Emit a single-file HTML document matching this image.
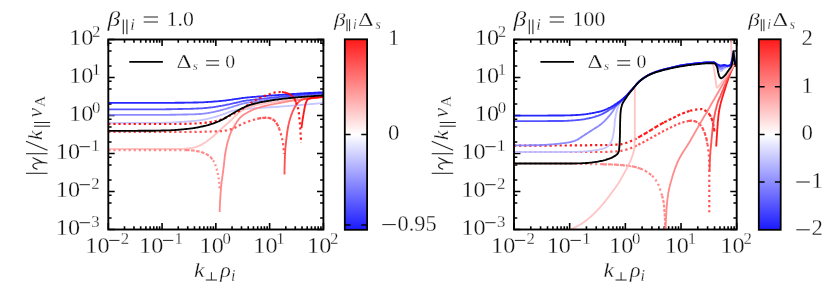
<!DOCTYPE html>
<html><head><meta charset="utf-8"><style>
html,body{margin:0;padding:0;background:#fff}
svg{display:block}
text{font-family:"Liberation Serif",serif;fill:#111;stroke:#fff;stroke-width:0.28px}
</style></head><body>
<svg width="830" height="284" viewBox="0 0 830 284">
<defs>
<linearGradient id="bwr" x1="0" y1="0" x2="0" y2="1"><stop offset="0" stop-color="#ff1a1a"/><stop offset="0.5" stop-color="#ffffff"/><stop offset="1" stop-color="#1a1aff"/></linearGradient>
<clipPath id="cp1"><rect x="108.3" y="39.5" width="215.1" height="190"/></clipPath>
<clipPath id="cp2"><rect x="514" y="39.5" width="222.7" height="190"/></clipPath>
</defs>
<rect width="830" height="284" fill="#fff"/>
<path d="M108.30 229.50 v-6.40 M108.30 39.50 v6.40" stroke="#000" stroke-width="1.6"/>
<path d="M124.49 229.50 v-3.30 M124.49 39.50 v3.30" stroke="#000" stroke-width="1.6"/>
<path d="M133.96 229.50 v-3.30 M133.96 39.50 v3.30" stroke="#000" stroke-width="1.6"/>
<path d="M140.68 229.50 v-3.30 M140.68 39.50 v3.30" stroke="#000" stroke-width="1.6"/>
<path d="M145.89 229.50 v-3.30 M145.89 39.50 v3.30" stroke="#000" stroke-width="1.6"/>
<path d="M150.15 229.50 v-3.30 M150.15 39.50 v3.30" stroke="#000" stroke-width="1.6"/>
<path d="M153.75 229.50 v-3.30 M153.75 39.50 v3.30" stroke="#000" stroke-width="1.6"/>
<path d="M156.86 229.50 v-3.30 M156.86 39.50 v3.30" stroke="#000" stroke-width="1.6"/>
<path d="M159.61 229.50 v-3.30 M159.61 39.50 v3.30" stroke="#000" stroke-width="1.6"/>
<path d="M162.07 229.50 v-6.40 M162.07 39.50 v6.40" stroke="#000" stroke-width="1.6"/>
<path d="M178.26 229.50 v-3.30 M178.26 39.50 v3.30" stroke="#000" stroke-width="1.6"/>
<path d="M187.73 229.50 v-3.30 M187.73 39.50 v3.30" stroke="#000" stroke-width="1.6"/>
<path d="M194.45 229.50 v-3.30 M194.45 39.50 v3.30" stroke="#000" stroke-width="1.6"/>
<path d="M199.66 229.50 v-3.30 M199.66 39.50 v3.30" stroke="#000" stroke-width="1.6"/>
<path d="M203.92 229.50 v-3.30 M203.92 39.50 v3.30" stroke="#000" stroke-width="1.6"/>
<path d="M207.52 229.50 v-3.30 M207.52 39.50 v3.30" stroke="#000" stroke-width="1.6"/>
<path d="M210.64 229.50 v-3.30 M210.64 39.50 v3.30" stroke="#000" stroke-width="1.6"/>
<path d="M213.39 229.50 v-3.30 M213.39 39.50 v3.30" stroke="#000" stroke-width="1.6"/>
<path d="M215.85 229.50 v-6.40 M215.85 39.50 v6.40" stroke="#000" stroke-width="1.6"/>
<path d="M232.04 229.50 v-3.30 M232.04 39.50 v3.30" stroke="#000" stroke-width="1.6"/>
<path d="M241.51 229.50 v-3.30 M241.51 39.50 v3.30" stroke="#000" stroke-width="1.6"/>
<path d="M248.23 229.50 v-3.30 M248.23 39.50 v3.30" stroke="#000" stroke-width="1.6"/>
<path d="M253.44 229.50 v-3.30 M253.44 39.50 v3.30" stroke="#000" stroke-width="1.6"/>
<path d="M257.70 229.50 v-3.30 M257.70 39.50 v3.30" stroke="#000" stroke-width="1.6"/>
<path d="M261.30 229.50 v-3.30 M261.30 39.50 v3.30" stroke="#000" stroke-width="1.6"/>
<path d="M264.41 229.50 v-3.30 M264.41 39.50 v3.30" stroke="#000" stroke-width="1.6"/>
<path d="M267.16 229.50 v-3.30 M267.16 39.50 v3.30" stroke="#000" stroke-width="1.6"/>
<path d="M269.62 229.50 v-6.40 M269.62 39.50 v6.40" stroke="#000" stroke-width="1.6"/>
<path d="M285.81 229.50 v-3.30 M285.81 39.50 v3.30" stroke="#000" stroke-width="1.6"/>
<path d="M295.28 229.50 v-3.30 M295.28 39.50 v3.30" stroke="#000" stroke-width="1.6"/>
<path d="M302.00 229.50 v-3.30 M302.00 39.50 v3.30" stroke="#000" stroke-width="1.6"/>
<path d="M307.21 229.50 v-3.30 M307.21 39.50 v3.30" stroke="#000" stroke-width="1.6"/>
<path d="M311.47 229.50 v-3.30 M311.47 39.50 v3.30" stroke="#000" stroke-width="1.6"/>
<path d="M315.07 229.50 v-3.30 M315.07 39.50 v3.30" stroke="#000" stroke-width="1.6"/>
<path d="M318.19 229.50 v-3.30 M318.19 39.50 v3.30" stroke="#000" stroke-width="1.6"/>
<path d="M320.94 229.50 v-3.30 M320.94 39.50 v3.30" stroke="#000" stroke-width="1.6"/>
<path d="M323.40 229.50 v-6.40 M323.40 39.50 v6.40" stroke="#000" stroke-width="1.6"/>
<path d="M108.30 229.50 h6.40 M323.40 229.50 h-6.40" stroke="#000" stroke-width="1.6"/>
<path d="M108.30 218.06 h3.30 M323.40 218.06 h-3.30" stroke="#000" stroke-width="1.6"/>
<path d="M108.30 202.94 h3.30 M323.40 202.94 h-3.30" stroke="#000" stroke-width="1.6"/>
<path d="M108.30 195.18 h3.30 M323.40 195.18 h-3.30" stroke="#000" stroke-width="1.6"/>
<path d="M108.30 191.50 h6.40 M323.40 191.50 h-6.40" stroke="#000" stroke-width="1.6"/>
<path d="M108.30 180.06 h3.30 M323.40 180.06 h-3.30" stroke="#000" stroke-width="1.6"/>
<path d="M108.30 164.94 h3.30 M323.40 164.94 h-3.30" stroke="#000" stroke-width="1.6"/>
<path d="M108.30 157.18 h3.30 M323.40 157.18 h-3.30" stroke="#000" stroke-width="1.6"/>
<path d="M108.30 153.50 h6.40 M323.40 153.50 h-6.40" stroke="#000" stroke-width="1.6"/>
<path d="M108.30 142.06 h3.30 M323.40 142.06 h-3.30" stroke="#000" stroke-width="1.6"/>
<path d="M108.30 126.94 h3.30 M323.40 126.94 h-3.30" stroke="#000" stroke-width="1.6"/>
<path d="M108.30 119.18 h3.30 M323.40 119.18 h-3.30" stroke="#000" stroke-width="1.6"/>
<path d="M108.30 115.50 h6.40 M323.40 115.50 h-6.40" stroke="#000" stroke-width="1.6"/>
<path d="M108.30 104.06 h3.30 M323.40 104.06 h-3.30" stroke="#000" stroke-width="1.6"/>
<path d="M108.30 88.94 h3.30 M323.40 88.94 h-3.30" stroke="#000" stroke-width="1.6"/>
<path d="M108.30 81.18 h3.30 M323.40 81.18 h-3.30" stroke="#000" stroke-width="1.6"/>
<path d="M108.30 77.50 h6.40 M323.40 77.50 h-6.40" stroke="#000" stroke-width="1.6"/>
<path d="M108.30 66.06 h3.30 M323.40 66.06 h-3.30" stroke="#000" stroke-width="1.6"/>
<path d="M108.30 50.94 h3.30 M323.40 50.94 h-3.30" stroke="#000" stroke-width="1.6"/>
<path d="M108.30 43.18 h3.30 M323.40 43.18 h-3.30" stroke="#000" stroke-width="1.6"/>
<path d="M108.30 39.50 h6.40 M323.40 39.50 h-6.40" stroke="#000" stroke-width="1.6"/>
<path d="M514.00 229.50 v-6.40 M514.00 39.50 v6.40" stroke="#000" stroke-width="1.6"/>
<path d="M530.76 229.50 v-3.30 M530.76 39.50 v3.30" stroke="#000" stroke-width="1.6"/>
<path d="M540.56 229.50 v-3.30 M540.56 39.50 v3.30" stroke="#000" stroke-width="1.6"/>
<path d="M547.52 229.50 v-3.30 M547.52 39.50 v3.30" stroke="#000" stroke-width="1.6"/>
<path d="M552.92 229.50 v-3.30 M552.92 39.50 v3.30" stroke="#000" stroke-width="1.6"/>
<path d="M557.32 229.50 v-3.30 M557.32 39.50 v3.30" stroke="#000" stroke-width="1.6"/>
<path d="M561.05 229.50 v-3.30 M561.05 39.50 v3.30" stroke="#000" stroke-width="1.6"/>
<path d="M564.28 229.50 v-3.30 M564.28 39.50 v3.30" stroke="#000" stroke-width="1.6"/>
<path d="M567.13 229.50 v-3.30 M567.13 39.50 v3.30" stroke="#000" stroke-width="1.6"/>
<path d="M569.67 229.50 v-6.40 M569.67 39.50 v6.40" stroke="#000" stroke-width="1.6"/>
<path d="M586.43 229.50 v-3.30 M586.43 39.50 v3.30" stroke="#000" stroke-width="1.6"/>
<path d="M596.24 229.50 v-3.30 M596.24 39.50 v3.30" stroke="#000" stroke-width="1.6"/>
<path d="M603.19 229.50 v-3.30 M603.19 39.50 v3.30" stroke="#000" stroke-width="1.6"/>
<path d="M608.59 229.50 v-3.30 M608.59 39.50 v3.30" stroke="#000" stroke-width="1.6"/>
<path d="M613.00 229.50 v-3.30 M613.00 39.50 v3.30" stroke="#000" stroke-width="1.6"/>
<path d="M616.73 229.50 v-3.30 M616.73 39.50 v3.30" stroke="#000" stroke-width="1.6"/>
<path d="M619.95 229.50 v-3.30 M619.95 39.50 v3.30" stroke="#000" stroke-width="1.6"/>
<path d="M622.80 229.50 v-3.30 M622.80 39.50 v3.30" stroke="#000" stroke-width="1.6"/>
<path d="M625.35 229.50 v-6.40 M625.35 39.50 v6.40" stroke="#000" stroke-width="1.6"/>
<path d="M642.11 229.50 v-3.30 M642.11 39.50 v3.30" stroke="#000" stroke-width="1.6"/>
<path d="M651.91 229.50 v-3.30 M651.91 39.50 v3.30" stroke="#000" stroke-width="1.6"/>
<path d="M658.87 229.50 v-3.30 M658.87 39.50 v3.30" stroke="#000" stroke-width="1.6"/>
<path d="M664.27 229.50 v-3.30 M664.27 39.50 v3.30" stroke="#000" stroke-width="1.6"/>
<path d="M668.67 229.50 v-3.30 M668.67 39.50 v3.30" stroke="#000" stroke-width="1.6"/>
<path d="M672.40 229.50 v-3.30 M672.40 39.50 v3.30" stroke="#000" stroke-width="1.6"/>
<path d="M675.63 229.50 v-3.30 M675.63 39.50 v3.30" stroke="#000" stroke-width="1.6"/>
<path d="M678.48 229.50 v-3.30 M678.48 39.50 v3.30" stroke="#000" stroke-width="1.6"/>
<path d="M681.03 229.50 v-6.40 M681.03 39.50 v6.40" stroke="#000" stroke-width="1.6"/>
<path d="M697.78 229.50 v-3.30 M697.78 39.50 v3.30" stroke="#000" stroke-width="1.6"/>
<path d="M707.59 229.50 v-3.30 M707.59 39.50 v3.30" stroke="#000" stroke-width="1.6"/>
<path d="M714.54 229.50 v-3.30 M714.54 39.50 v3.30" stroke="#000" stroke-width="1.6"/>
<path d="M719.94 229.50 v-3.30 M719.94 39.50 v3.30" stroke="#000" stroke-width="1.6"/>
<path d="M724.35 229.50 v-3.30 M724.35 39.50 v3.30" stroke="#000" stroke-width="1.6"/>
<path d="M728.08 229.50 v-3.30 M728.08 39.50 v3.30" stroke="#000" stroke-width="1.6"/>
<path d="M731.30 229.50 v-3.30 M731.30 39.50 v3.30" stroke="#000" stroke-width="1.6"/>
<path d="M734.15 229.50 v-3.30 M734.15 39.50 v3.30" stroke="#000" stroke-width="1.6"/>
<path d="M736.70 229.50 v-6.40 M736.70 39.50 v6.40" stroke="#000" stroke-width="1.6"/>
<path d="M514.00 229.50 h6.40 M736.70 229.50 h-6.40" stroke="#000" stroke-width="1.6"/>
<path d="M514.00 218.06 h3.30 M736.70 218.06 h-3.30" stroke="#000" stroke-width="1.6"/>
<path d="M514.00 202.94 h3.30 M736.70 202.94 h-3.30" stroke="#000" stroke-width="1.6"/>
<path d="M514.00 195.18 h3.30 M736.70 195.18 h-3.30" stroke="#000" stroke-width="1.6"/>
<path d="M514.00 191.50 h6.40 M736.70 191.50 h-6.40" stroke="#000" stroke-width="1.6"/>
<path d="M514.00 180.06 h3.30 M736.70 180.06 h-3.30" stroke="#000" stroke-width="1.6"/>
<path d="M514.00 164.94 h3.30 M736.70 164.94 h-3.30" stroke="#000" stroke-width="1.6"/>
<path d="M514.00 157.18 h3.30 M736.70 157.18 h-3.30" stroke="#000" stroke-width="1.6"/>
<path d="M514.00 153.50 h6.40 M736.70 153.50 h-6.40" stroke="#000" stroke-width="1.6"/>
<path d="M514.00 142.06 h3.30 M736.70 142.06 h-3.30" stroke="#000" stroke-width="1.6"/>
<path d="M514.00 126.94 h3.30 M736.70 126.94 h-3.30" stroke="#000" stroke-width="1.6"/>
<path d="M514.00 119.18 h3.30 M736.70 119.18 h-3.30" stroke="#000" stroke-width="1.6"/>
<path d="M514.00 115.50 h6.40 M736.70 115.50 h-6.40" stroke="#000" stroke-width="1.6"/>
<path d="M514.00 104.06 h3.30 M736.70 104.06 h-3.30" stroke="#000" stroke-width="1.6"/>
<path d="M514.00 88.94 h3.30 M736.70 88.94 h-3.30" stroke="#000" stroke-width="1.6"/>
<path d="M514.00 81.18 h3.30 M736.70 81.18 h-3.30" stroke="#000" stroke-width="1.6"/>
<path d="M514.00 77.50 h6.40 M736.70 77.50 h-6.40" stroke="#000" stroke-width="1.6"/>
<path d="M514.00 66.06 h3.30 M736.70 66.06 h-3.30" stroke="#000" stroke-width="1.6"/>
<path d="M514.00 50.94 h3.30 M736.70 50.94 h-3.30" stroke="#000" stroke-width="1.6"/>
<path d="M514.00 43.18 h3.30 M736.70 43.18 h-3.30" stroke="#000" stroke-width="1.6"/>
<path d="M514.00 39.50 h6.40 M736.70 39.50 h-6.40" stroke="#000" stroke-width="1.6"/>
<g clip-path="url(#cp1)">
<path d="M108.3 122.9 L109.3 122.9 L110.3 122.9 L111.3 122.9 L112.3 122.9 L113.3 122.9 L114.3 122.9 L115.3 122.9 L116.3 122.9 L117.3 122.9 L118.3 122.9 L119.3 122.9 L120.4 122.9 L121.4 122.9 L122.4 122.9 L123.4 122.9 L124.4 122.9 L125.4 122.9 L126.4 122.9 L127.4 122.9 L128.4 122.9 L129.4 122.9 L130.4 122.9 L131.4 122.9 L132.4 122.9 L133.4 122.9 L134.4 122.9 L135.4 122.9 L136.4 122.9 L137.4 122.9 L138.4 122.9 L139.4 122.9 L140.4 122.9 L141.4 122.9 L142.5 122.9 L143.5 122.9 L144.5 122.9 L145.5 122.9 L146.5 122.9 L147.5 122.9 L148.5 122.9 L149.5 122.9 L150.5 122.9 L151.5 122.9 L152.5 122.9 L153.5 122.9 L154.5 122.9 L155.5 122.9 L156.5 122.9 L157.5 122.9 L158.5 122.8 L159.5 122.8 L160.5 122.8 L161.5 122.8 L162.5 122.8 L163.5 122.7 L164.6 122.7 L165.6 122.7 L166.6 122.7 L167.6 122.7 L168.6 122.6 L169.6 122.6 L170.6 122.6 L171.6 122.5 L172.6 122.5 L173.6 122.4 L174.6 122.4 L175.6 122.3 L176.6 122.2 L177.6 122.2 L178.6 122.1 L179.6 122.0 L180.6 122.0 L181.6 121.9 L182.6 121.8 L183.6 121.8 L184.6 121.7 L185.6 121.6 L186.6 121.6 L187.6 121.5 L188.6 121.4 L189.6 121.3 L190.6 121.2 L191.6 121.2 L192.6 121.1 L193.6 121.0 L194.6 120.9 L195.6 120.8 L196.6 120.7 L197.6 120.6 L198.6 120.5 L199.6 120.4 L200.6 120.2 L201.6 120.1 L202.6 119.9 L203.6 119.7 L204.6 119.5 L205.6 119.3 L206.5 119.1 L207.5 118.9 L208.5 118.7 L209.5 118.4 L210.5 118.2 L211.4 117.9 L212.4 117.7 L213.4 117.4 L214.3 117.2 L215.3 116.9 L216.3 116.6 L217.2 116.3 L218.2 116.0 L219.1 115.6 L220.1 115.3 L221.0 115.0 L222.0 114.7 L222.9 114.4 L223.9 114.0 L224.8 113.7 L225.8 113.3 L226.7 112.9 L227.7 112.5 L228.6 112.2 L229.5 111.8 L230.5 111.5 L231.4 111.2 L232.4 110.9 L233.4 110.6 L234.3 110.4 L235.3 110.3 L236.3 110.1 L237.3 109.9 L238.3 109.8 L239.3 109.7 L240.3 109.5 L241.3 109.4 L242.3 109.3 L243.3 109.2 L244.3 109.1 L245.3 109.0 L246.3 108.9 L247.3 108.8 L248.3 108.7 L249.3 108.6 L250.3 108.5 L251.3 108.4 L252.3 108.3 L253.3 108.3 L254.3 108.2 L255.3 108.1 L256.3 108.1 L257.3 108.0 L258.3 107.9 L259.3 107.8 L260.3 107.8 L261.3 107.7 L262.3 107.7 L263.3 107.6 L264.3 107.5 L265.3 107.5 L266.3 107.4 L267.3 107.4 L268.3 107.3 L269.3 107.3 L270.3 107.2 L271.3 107.2 L272.3 107.1 L273.3 107.1 L274.3 107.0 L275.3 106.9 L276.3 106.9 L277.4 106.8 L278.4 106.7 L279.4 106.7 L280.4 106.6 L281.4 106.5 L282.4 106.4 L283.4 106.4 L284.4 106.3 L285.4 106.2 L286.4 106.1 L287.4 106.1 L288.4 106.0 L289.4 105.9 L290.4 105.8 L291.4 105.7 L292.4 105.6 L293.4 105.6 L294.4 105.5 L295.4 105.4 L296.4 105.3 L297.4 105.2 L298.4 105.1 L299.4 105.1 L300.4 105.0 L301.4 104.9 L302.4 104.8 L303.4 104.7 L304.4 104.6 L305.4 104.6 L306.4 104.5 L307.4 104.4 L308.4 104.3 L309.4 104.2 L310.4 104.1 L311.4 104.0 L312.4 104.0 L313.4 103.9 L314.4 103.8 L315.4 103.7 L316.4 103.6 L317.4 103.5 L318.4 103.4 L319.4 103.4 L320.4 103.3 L321.4 103.2 L322.4 103.1 L323.4 103.0" fill="none" stroke-linejoin="round" stroke="#bfbfff" stroke-width="1.85" stroke-opacity="0.9" />
<path d="M108.3 114.9 L109.3 114.9 L110.3 114.9 L111.3 114.9 L112.3 114.9 L113.3 114.9 L114.3 114.9 L115.3 114.9 L116.3 114.9 L117.3 114.9 L118.3 114.9 L119.3 114.9 L120.3 114.9 L121.3 114.9 L122.3 114.9 L123.3 114.9 L124.3 114.9 L125.3 114.9 L126.3 114.9 L127.3 114.9 L128.3 114.9 L129.3 114.9 L130.3 114.9 L131.3 114.9 L132.3 114.9 L133.3 114.9 L134.3 114.9 L135.3 114.9 L136.3 114.9 L137.3 114.9 L138.3 114.9 L139.3 114.9 L140.3 114.9 L141.3 114.9 L142.3 114.9 L143.3 114.9 L144.3 114.9 L145.3 114.9 L146.3 114.9 L147.3 114.9 L148.3 114.9 L149.3 114.9 L150.3 114.9 L151.3 114.9 L152.3 114.9 L153.3 114.9 L154.3 114.9 L155.3 114.9 L156.3 114.9 L157.3 114.9 L158.3 114.9 L159.3 114.9 L160.3 114.9 L161.3 114.8 L162.3 114.8 L163.3 114.8 L164.3 114.8 L165.3 114.8 L166.3 114.8 L167.3 114.8 L168.3 114.8 L169.3 114.8 L170.3 114.7 L171.3 114.7 L172.3 114.7 L173.3 114.7 L174.3 114.7 L175.3 114.7 L176.3 114.7 L177.3 114.6 L178.3 114.6 L179.3 114.6 L180.3 114.6 L181.3 114.6 L182.3 114.6 L183.3 114.5 L184.3 114.5 L185.3 114.5 L186.3 114.5 L187.3 114.5 L188.3 114.4 L189.3 114.4 L190.3 114.4 L191.3 114.4 L192.3 114.3 L193.3 114.3 L194.3 114.3 L195.3 114.2 L196.3 114.2 L197.3 114.1 L198.3 114.1 L199.3 114.0 L200.3 114.0 L201.3 113.9 L202.3 113.8 L203.3 113.7 L204.3 113.6 L205.3 113.4 L206.3 113.3 L207.3 113.1 L208.2 113.0 L209.2 112.8 L210.2 112.6 L211.2 112.4 L212.2 112.3 L213.2 112.1 L214.1 111.9 L215.1 111.7 L216.1 111.4 L217.1 111.2 L218.0 111.0 L219.0 110.7 L220.0 110.5 L220.9 110.2 L221.9 110.0 L222.9 109.7 L223.8 109.4 L224.8 109.2 L225.8 108.9 L226.7 108.6 L227.7 108.3 L228.6 108.0 L229.6 107.7 L230.5 107.4 L231.5 107.1 L232.4 106.8 L233.4 106.5 L234.4 106.2 L235.3 105.9 L236.3 105.6 L237.2 105.3 L238.2 105.0 L239.2 104.7 L240.1 104.4 L241.1 104.2 L242.0 103.9 L243.0 103.6 L244.0 103.4 L245.0 103.2 L245.9 103.0 L246.9 102.8 L247.9 102.7 L248.9 102.5 L249.9 102.4 L250.9 102.2 L251.8 102.1 L252.8 102.0 L253.8 101.8 L254.8 101.7 L255.8 101.6 L256.8 101.4 L257.8 101.3 L258.8 101.2 L259.8 101.0 L260.8 100.9 L261.8 100.7 L262.8 100.6 L263.8 100.5 L264.7 100.3 L265.7 100.2 L266.7 100.0 L267.7 99.9 L268.7 99.8 L269.7 99.6 L270.7 99.5 L271.7 99.4 L272.7 99.2 L273.7 99.1 L274.7 99.0 L275.6 98.9 L276.6 98.7 L277.6 98.6 L278.6 98.5 L279.6 98.3 L280.6 98.2 L281.6 98.1 L282.6 98.0 L283.6 97.8 L284.6 97.7 L285.6 97.6 L286.6 97.5 L287.6 97.3 L288.5 97.2 L289.5 97.1 L290.5 97.0 L291.5 96.8 L292.5 96.7 L293.5 96.6 L294.5 96.5 L295.5 96.4 L296.5 96.3 L297.5 96.2 L298.5 96.1 L299.5 96.0 L300.5 95.9 L301.5 95.8 L302.5 95.7 L303.5 95.6 L304.5 95.5 L305.4 95.4 L306.4 95.3 L307.4 95.2 L308.4 95.1 L309.4 95.0 L310.4 94.9 L311.4 94.9 L312.4 94.8 L313.4 94.7 L314.4 94.6 L315.4 94.5 L316.4 94.5 L317.4 94.4 L318.4 94.3 L319.4 94.3 L320.4 94.2 L321.4 94.1 L322.4 94.1 L323.4 94.0" fill="none" stroke-linejoin="round" stroke="#8080ff" stroke-width="1.85" stroke-opacity="0.9" />
<path d="M108.3 109.4 L109.3 109.4 L110.3 109.4 L111.3 109.4 L112.3 109.4 L113.3 109.4 L114.3 109.4 L115.3 109.4 L116.3 109.4 L117.3 109.4 L118.3 109.4 L119.3 109.4 L120.3 109.4 L121.3 109.4 L122.3 109.4 L123.3 109.4 L124.3 109.4 L125.3 109.4 L126.3 109.4 L127.3 109.4 L128.3 109.4 L129.3 109.4 L130.3 109.4 L131.3 109.4 L132.3 109.4 L133.3 109.4 L134.3 109.4 L135.3 109.4 L136.3 109.4 L137.3 109.4 L138.3 109.4 L139.3 109.4 L140.3 109.4 L141.3 109.4 L142.3 109.4 L143.3 109.4 L144.3 109.4 L145.3 109.4 L146.3 109.4 L147.3 109.4 L148.3 109.4 L149.3 109.4 L150.3 109.4 L151.3 109.4 L152.3 109.4 L153.3 109.4 L154.3 109.4 L155.3 109.4 L156.3 109.4 L157.3 109.4 L158.3 109.4 L159.3 109.3 L160.3 109.3 L161.3 109.3 L162.3 109.3 L163.3 109.3 L164.3 109.3 L165.4 109.3 L166.4 109.2 L167.4 109.2 L168.4 109.2 L169.4 109.2 L170.4 109.2 L171.4 109.2 L172.4 109.1 L173.4 109.1 L174.4 109.1 L175.4 109.1 L176.4 109.1 L177.4 109.1 L178.4 109.0 L179.4 109.0 L180.4 109.0 L181.4 109.0 L182.4 109.0 L183.4 108.9 L184.4 108.9 L185.4 108.9 L186.4 108.9 L187.4 108.8 L188.4 108.8 L189.4 108.8 L190.4 108.8 L191.4 108.7 L192.4 108.7 L193.4 108.7 L194.4 108.6 L195.4 108.6 L196.4 108.6 L197.4 108.5 L198.4 108.5 L199.4 108.4 L200.4 108.4 L201.4 108.3 L202.4 108.3 L203.4 108.2 L204.4 108.1 L205.4 108.0 L206.4 107.9 L207.4 107.8 L208.4 107.7 L209.3 107.6 L210.3 107.5 L211.3 107.4 L212.3 107.3 L213.3 107.1 L214.3 107.0 L215.3 106.8 L216.3 106.7 L217.3 106.5 L218.3 106.4 L219.3 106.2 L220.2 106.0 L221.2 105.8 L222.2 105.7 L223.2 105.5 L224.2 105.3 L225.2 105.1 L226.1 104.9 L227.1 104.7 L228.1 104.5 L229.1 104.3 L230.1 104.1 L231.0 103.8 L232.0 103.6 L233.0 103.4 L234.0 103.2 L234.9 103.0 L235.9 102.8 L236.9 102.5 L237.9 102.3 L238.8 102.1 L239.8 101.8 L240.8 101.6 L241.8 101.4 L242.8 101.2 L243.7 101.0 L244.7 100.8 L245.7 100.7 L246.7 100.5 L247.7 100.4 L248.7 100.3 L249.7 100.2 L250.7 100.0 L251.7 99.9 L252.7 99.8 L253.6 99.7 L254.6 99.6 L255.6 99.5 L256.6 99.4 L257.6 99.3 L258.6 99.2 L259.6 99.0 L260.6 98.9 L261.6 98.8 L262.6 98.7 L263.6 98.6 L264.6 98.5 L265.6 98.4 L266.6 98.3 L267.6 98.2 L268.6 98.1 L269.6 97.9 L270.6 97.8 L271.6 97.7 L272.6 97.6 L273.6 97.5 L274.5 97.4 L275.5 97.3 L276.5 97.2 L277.5 97.1 L278.5 97.0 L279.5 96.8 L280.5 96.7 L281.5 96.6 L282.5 96.5 L283.5 96.4 L284.5 96.3 L285.5 96.2 L286.5 96.1 L287.5 96.0 L288.5 96.0 L289.5 95.9 L290.5 95.8 L291.5 95.7 L292.5 95.6 L293.5 95.5 L294.5 95.4 L295.5 95.3 L296.5 95.2 L297.5 95.1 L298.5 95.0 L299.4 94.9 L300.4 94.9 L301.4 94.8 L302.4 94.7 L303.4 94.6 L304.4 94.5 L305.4 94.4 L306.4 94.4 L307.4 94.3 L308.4 94.2 L309.4 94.1 L310.4 94.0 L311.4 94.0 L312.4 93.9 L313.4 93.8 L314.4 93.7 L315.4 93.7 L316.4 93.6 L317.4 93.5 L318.4 93.4 L319.4 93.4 L320.4 93.3 L321.4 93.2 L322.4 93.2 L323.4 93.1" fill="none" stroke-linejoin="round" stroke="#4040ff" stroke-width="1.85" stroke-opacity="0.9" />
<path d="M108.3 102.9 L109.3 102.9 L110.3 102.9 L111.3 102.9 L112.3 102.9 L113.3 102.9 L114.3 102.9 L115.3 102.9 L116.3 102.9 L117.3 102.9 L118.3 102.9 L119.3 102.9 L120.3 102.9 L121.3 102.9 L122.3 102.9 L123.3 102.9 L124.3 102.9 L125.3 102.9 L126.3 102.9 L127.4 102.9 L128.4 102.9 L129.4 102.9 L130.4 102.9 L131.4 102.9 L132.4 102.9 L133.4 102.9 L134.4 102.9 L135.4 102.9 L136.4 102.9 L137.4 102.9 L138.4 102.9 L139.4 102.9 L140.4 102.9 L141.4 102.9 L142.4 102.9 L143.4 102.9 L144.4 102.9 L145.4 102.9 L146.4 102.9 L147.4 102.9 L148.4 102.9 L149.4 102.9 L150.4 102.9 L151.4 102.9 L152.4 102.9 L153.4 102.9 L154.4 102.9 L155.4 102.9 L156.4 102.9 L157.4 102.9 L158.4 102.9 L159.4 102.9 L160.4 102.9 L161.4 102.9 L162.4 102.9 L163.4 102.8 L164.4 102.8 L165.5 102.8 L166.5 102.8 L167.5 102.8 L168.5 102.8 L169.5 102.8 L170.5 102.8 L171.5 102.8 L172.5 102.8 L173.5 102.8 L174.5 102.8 L175.5 102.7 L176.5 102.7 L177.5 102.7 L178.5 102.7 L179.5 102.7 L180.5 102.7 L181.5 102.7 L182.5 102.7 L183.5 102.7 L184.5 102.7 L185.5 102.6 L186.5 102.6 L187.5 102.6 L188.5 102.6 L189.5 102.6 L190.5 102.6 L191.5 102.6 L192.5 102.6 L193.5 102.5 L194.5 102.5 L195.5 102.5 L196.5 102.5 L197.5 102.5 L198.5 102.4 L199.5 102.4 L200.5 102.4 L201.5 102.4 L202.5 102.3 L203.5 102.3 L204.5 102.2 L205.5 102.1 L206.5 102.1 L207.5 102.0 L208.5 101.9 L209.5 101.9 L210.5 101.8 L211.5 101.7 L212.5 101.7 L213.5 101.6 L214.5 101.5 L215.5 101.4 L216.5 101.4 L217.5 101.3 L218.5 101.2 L219.5 101.1 L220.5 101.0 L221.5 100.9 L222.5 100.8 L223.5 100.7 L224.5 100.6 L225.5 100.5 L226.5 100.3 L227.5 100.2 L228.5 100.1 L229.5 99.9 L230.5 99.8 L231.5 99.7 L232.5 99.5 L233.5 99.4 L234.5 99.2 L235.5 99.1 L236.5 98.9 L237.4 98.8 L238.4 98.6 L239.4 98.5 L240.4 98.3 L241.4 98.2 L242.4 98.0 L243.4 97.9 L244.4 97.8 L245.4 97.7 L246.4 97.6 L247.4 97.5 L248.4 97.4 L249.4 97.3 L250.4 97.2 L251.4 97.1 L252.4 97.0 L253.4 96.9 L254.4 96.8 L255.4 96.8 L256.4 96.7 L257.4 96.6 L258.4 96.5 L259.4 96.5 L260.4 96.4 L261.4 96.3 L262.4 96.2 L263.4 96.1 L264.4 96.0 L265.4 96.0 L266.4 95.9 L267.4 95.8 L268.4 95.7 L269.4 95.6 L270.4 95.6 L271.4 95.5 L272.4 95.4 L273.4 95.4 L274.4 95.3 L275.4 95.2 L276.4 95.2 L277.4 95.1 L278.4 95.0 L279.4 94.9 L280.4 94.9 L281.4 94.8 L282.4 94.7 L283.4 94.7 L284.4 94.6 L285.4 94.5 L286.4 94.5 L287.4 94.4 L288.4 94.3 L289.4 94.2 L290.4 94.2 L291.4 94.1 L292.4 94.0 L293.4 94.0 L294.4 93.9 L295.4 93.8 L296.4 93.8 L297.4 93.7 L298.4 93.6 L299.4 93.6 L300.4 93.5 L301.4 93.4 L302.4 93.4 L303.4 93.3 L304.4 93.2 L305.4 93.2 L306.4 93.1 L307.4 93.1 L308.4 93.0 L309.4 93.0 L310.4 92.9 L311.4 92.9 L312.4 92.8 L313.4 92.8 L314.4 92.7 L315.4 92.7 L316.4 92.6 L317.4 92.6 L318.4 92.5 L319.4 92.5 L320.4 92.4 L321.4 92.4 L322.4 92.3 L323.4 92.3" fill="none" stroke-linejoin="round" stroke="#0d0dff" stroke-width="1.85" stroke-opacity="0.9" />
<path d="M108.3 149.0 L109.3 149.0 L110.3 149.0 L111.3 149.0 L112.3 149.0 L113.3 149.0 L114.3 149.0 L115.3 149.0 L116.3 149.0 L117.3 149.0 L118.3 149.0 L119.3 149.0 L120.3 149.0 L121.3 149.0 L122.4 149.0 L123.4 149.0 L124.4 149.0 L125.4 149.0 L126.4 149.0 L127.4 149.0 L128.4 149.0 L129.4 149.0 L130.4 149.0 L131.4 149.0 L132.4 149.0 L133.4 149.0 L134.4 149.0 L135.4 149.0 L136.4 149.0 L137.4 149.0 L138.4 149.0 L139.4 149.0 L140.4 149.0 L141.4 149.0 L142.4 149.0 L143.4 149.0 L144.4 149.0 L145.4 149.0 L146.4 149.0 L147.4 149.0 L148.4 149.0 L149.4 149.0 L150.5 149.0 L151.5 149.0 L152.5 149.0 L153.5 149.0 L154.5 149.0 L155.5 149.0 L156.5 149.0 L157.5 149.0 L158.5 149.0 L159.5 149.0 L160.5 149.0 L161.5 149.0 L162.5 149.0 L163.5 149.0 L164.5 149.0 L165.5 149.0 L166.5 149.0 L167.5 149.0 L168.5 149.0 L169.5 149.0 L170.5 149.0 L171.5 149.0 L172.5 149.0 L173.5 149.0 L174.5 148.9 L175.5 148.9 L176.6 148.9 L177.6 148.9 L178.6 148.9 L179.6 148.9 L180.6 148.9 L181.6 148.9 L182.6 148.8 L183.6 148.8 L184.6 148.7 L185.6 148.6 L186.6 148.5 L187.6 148.4 L188.6 148.3 L189.6 148.2 L190.6 148.1 L191.6 148.0 L192.6 147.8 L193.5 147.7 L194.5 147.4 L195.5 147.1 L196.4 146.8 L197.4 146.5 L198.3 146.1 L199.3 145.7 L200.2 145.3 L201.1 144.9 L202.0 144.4 L202.8 143.9 L203.7 143.4 L204.5 142.9 L205.4 142.3 L206.2 141.8 L207.0 141.2 L207.8 140.5 L208.6 139.9 L209.4 139.3 L210.2 138.7 L211.0 138.0 L211.8 137.4 L212.6 136.8 L213.4 136.2 L214.1 135.5 L214.9 134.8 L215.6 134.2 L216.4 133.5 L217.1 132.8 L217.8 132.1 L218.6 131.4 L219.3 130.7 L220.0 130.1 L220.8 129.4 L221.5 128.7 L222.3 128.0 L223.0 127.4 L223.8 126.7 L224.5 126.0 L225.3 125.4 L226.0 124.7 L226.8 124.1 L227.6 123.4 L228.3 122.7 L229.1 122.1 L229.8 121.4 L230.5 120.7 L231.3 120.1 L232.0 119.3 L232.7 118.6 L233.4 117.9 L234.1 117.1 L234.8 116.4 L235.5 115.7 L236.3 115.0 L237.0 114.3 L237.7 113.6 L238.5 112.9 L239.2 112.3 L240.0 111.8 L240.9 111.2 L241.7 110.7 L242.6 110.2 L243.5 109.7 L244.4 109.3 L245.3 108.8 L246.2 108.4 L247.1 108.0 L248.1 107.6 L249.0 107.2 L249.9 106.9 L250.9 106.6 L251.8 106.3 L252.8 106.0 L253.8 105.8 L254.7 105.5 L255.7 105.3 L256.7 105.1 L257.7 104.9 L258.7 104.7 L259.7 104.5 L260.7 104.3 L261.6 104.1 L262.6 103.9 L263.6 103.7 L264.6 103.5 L265.6 103.3 L266.6 103.1 L267.6 102.9 L268.5 102.8 L269.5 102.6 L270.5 102.4 L271.5 102.3 L272.5 102.1 L273.5 102.0 L274.5 101.8 L275.5 101.7 L276.5 101.6 L277.5 101.4 L278.5 101.3 L279.5 101.2 L280.5 101.1 L281.5 100.9 L282.5 100.8 L283.5 100.7 L284.5 100.6 L285.4 100.4 L286.4 100.3 L287.4 100.2 L288.4 100.1 L289.4 100.0 L290.4 99.9 L291.4 99.8 L292.4 99.7 L293.4 99.6 L294.4 99.5 L295.4 99.4 L296.4 99.3 L297.4 99.2 L298.4 99.1 L299.4 99.1 L300.4 99.0 L301.4 98.9 L302.4 98.8 L303.4 98.7 L304.4 98.6 L305.4 98.5 L306.4 98.4 L307.4 98.3 L308.4 98.2 L309.4 98.1 L310.4 98.0 L311.4 97.9 L312.4 97.8 L313.4 97.7 L314.4 97.6 L315.4 97.5 L316.4 97.4 L317.4 97.3 L318.4 97.2 L319.4 97.1 L320.4 97.0 L321.4 96.9 L322.4 96.8 L323.4 96.7" fill="none" stroke-linejoin="round" stroke="#ffbfbf" stroke-width="1.85" stroke-opacity="0.9" />
<path d="M108.3 150.1 L108.8 150.1 L109.3 150.1 L109.8 150.1 L110.3 150.1 L110.8 150.1 L111.3 150.1 L111.8 150.1 L112.3 150.1 L112.8 150.1 L113.3 150.1 L113.8 150.1 L114.3 150.1 L114.8 150.1 L115.3 150.1 L115.8 150.1 L116.3 150.1 L116.8 150.1 L117.3 150.1 L117.8 150.1 L118.3 150.1 L118.8 150.1 L119.3 150.1 L119.8 150.1 L120.3 150.1 L120.8 150.1 L121.3 150.1 L121.8 150.1 L122.3 150.1 L122.9 150.1 L123.4 150.1 L123.9 150.1 L124.4 150.1 L124.9 150.1 L125.4 150.1 L125.9 150.1 L126.4 150.1 L126.9 150.1 L127.4 150.1 L127.9 150.1 L128.4 150.1 L128.9 150.1 L129.4 150.1 L129.9 150.1 L130.4 150.1 L130.9 150.1 L131.4 150.1 L131.9 150.1 L132.4 150.1 L132.9 150.1 L133.4 150.1 L133.9 150.1 L134.4 150.1 L134.9 150.1 L135.4 150.1 L135.9 150.1 L136.4 150.1 L136.9 150.1 L137.4 150.1 L137.9 150.1 L138.4 150.1 L138.9 150.1 L139.4 150.1 L139.9 150.1 L140.4 150.1 L140.9 150.1 L141.4 150.1 L141.9 150.1 L142.4 150.1 L142.9 150.1 L143.4 150.1 L143.9 150.1 L144.4 150.1 L144.9 150.1 L145.4 150.1 L145.9 150.1 L146.4 150.1 L146.9 150.1 L147.4 150.1 L147.9 150.1 L148.4 150.1 L148.9 150.1 L149.4 150.1 L149.9 150.1 L150.4 150.1 L150.9 150.1 L151.4 150.1 L151.9 150.1 L152.4 150.1 L152.9 150.1 L153.4 150.1 L153.9 150.1 L154.5 150.1 L155.0 150.1 L155.5 150.1 L156.0 150.1 L156.5 150.1 L157.0 150.1 L157.5 150.1 L158.0 150.1 L158.5 150.1 L159.0 150.1 L159.5 150.1 L160.0 150.1 L160.5 150.1 L161.0 150.1 L161.5 150.1 L162.0 150.1 L162.5 150.1 L163.0 150.1 L163.5 150.1 L164.0 150.1 L164.5 150.1 L165.0 150.1 L165.5 150.1 L166.0 150.1 L166.5 150.1 L167.0 150.1 L167.5 150.1 L168.0 150.1 L168.5 150.1 L169.0 150.1 L169.5 150.1 L170.0 150.1 L170.5 150.1 L171.0 150.1 L171.5 150.1 L172.0 150.1 L172.5 150.1 L173.0 150.1 L173.5 150.1 L174.0 150.1 L174.5 150.1 L175.0 150.1 L175.5 150.1 L176.0 150.1 L176.5 150.1 L177.0 150.1 L177.5 150.1 L178.0 150.1 L178.5 150.1 L179.0 150.1 L179.5 150.1 L180.0 150.1 L180.5 150.1 L181.0 150.1 L181.5 150.1 L182.0 150.1 L182.5 150.1 L183.0 150.1 L183.5 150.1 L184.0 150.1 L184.5 150.1 L185.0 150.1 L185.5 150.1 L186.0 150.1" fill="none" stroke-linejoin="round" stroke="#ff8080" stroke-width="2.2" stroke-dasharray="2.2 2.87" stroke-opacity="0.9" /><path d="M186.0 150.1 L186.5 150.1 L187.0 150.1 L187.5 150.2 L188.0 150.2 L188.5 150.2 L189.1 150.2 L189.6 150.2 L190.1 150.3 L190.5 150.3 L191.0 150.3 L191.5 150.4 L192.0 150.4 L192.6 150.5 L193.1 150.5 L193.6 150.6 L194.1 150.6 L194.6 150.7 L195.1 150.8 L195.6 150.9 L196.1 151.0 L196.6 151.1 L197.1 151.1 L197.6 151.2 L198.0 151.3 L198.5 151.5 L199.0 151.6 L199.5 151.7 L200.0 151.8 L200.5 151.9 L200.9 152.0 L201.4 152.2 L201.9 152.3 L202.4 152.4 L202.9 152.6 L203.3 152.8 L203.8 153.0 L204.3 153.2 L204.8 153.4 L205.2 153.6 L205.7 153.8 L206.2 154.1 L206.6 154.3 L207.1 154.6 L207.5 154.8 L207.9 155.1 L208.3 155.3 L208.7 155.6 L209.1 155.9 L209.5 156.2 L209.8 156.5 L210.2 156.8 L210.6 157.2 L210.9 157.5 L211.3 157.9 L211.6 158.3 L211.9 158.7 L212.3 159.1 L212.6 159.5 L212.9 159.9 L213.2 160.4" fill="none" stroke-linejoin="round" stroke="#ff8080" stroke-width="2.2" stroke-dasharray="3.6 1.5" stroke-opacity="0.9" /><path d="M213.2 160.4 L213.5 160.8 L213.7 161.2 L214.0 161.7 L214.2 162.1 L214.4 162.5 L214.6 163.0 L214.8 163.4 L215.0 163.9 L215.2 164.3 L215.4 164.8 L215.5 165.3 L215.7 165.8 L215.8 166.2 L216.0 166.7 L216.1 167.2 L216.3 167.7 L216.4 168.2 L216.6 168.7 L216.7 169.2 L216.8 169.7 L216.9 170.2 L217.1 170.7 L217.2 171.1 L217.3 171.6 L217.4 172.1 L217.6 172.6 L217.7 173.1 L217.8 173.6 L217.9 174.1 L218.0 174.6 L218.1 175.1 L218.2 175.5 L218.3 176.0 L218.4 176.5 L218.5 177.0 L218.6 177.5 L218.7 178.0 L218.7 178.5 L218.8 179.0 L218.9 179.5 L218.9 180.0 L219.0 180.5 L219.0 181.0 L219.1 181.5 L219.1 182.0 L219.2 182.5 L219.2 183.0 L219.3 183.5 L219.3 184.0 L219.4 184.5 L219.4 185.0 L219.4 185.5 L219.5 186.0 L219.5 186.5 L219.5 187.0 L219.6 187.5 L219.6 188.0 L219.6 188.5 L219.6 189.0" fill="none" stroke-linejoin="round" stroke="#ff8080" stroke-width="2.2" stroke-dasharray="1.9 2.6" stroke-opacity="0.9" />
<path d="M219.7 212.0 L219.7 211.0 L219.7 210.0 L219.8 209.0 L219.8 208.0 L219.8 207.0 L219.9 206.0 L219.9 205.0 L219.9 204.0 L220.0 202.9 L220.0 201.9 L220.1 200.9 L220.2 199.9 L220.2 198.9 L220.3 197.9 L220.3 196.9 L220.4 195.9 L220.5 194.9 L220.6 193.9 L220.6 192.9 L220.7 191.9 L220.8 190.9 L220.9 189.9 L220.9 188.9 L221.0 187.9 L221.1 186.9 L221.2 185.9 L221.3 184.9 L221.4 183.9 L221.5 182.9 L221.6 181.9 L221.8 180.9 L221.9 179.9 L222.1 178.9 L222.2 177.9 L222.3 176.9 L222.5 175.9 L222.6 174.9 L222.8 174.0 L222.9 173.0 L223.0 172.0 L223.2 171.0 L223.3 170.0 L223.4 169.0 L223.5 168.0 L223.7 167.0 L223.8 166.0 L223.9 165.0 L224.0 164.0 L224.1 163.0 L224.2 162.0 L224.3 161.0 L224.4 160.0 L224.6 159.0 L224.7 158.0 L224.8 157.0 L224.9 156.0 L225.1 155.0 L225.2 154.0 L225.4 153.0 L225.5 152.0 L225.7 151.0 L225.9 150.0 L226.1 149.0 L226.3 148.1 L226.5 147.1 L226.7 146.1 L226.9 145.1 L227.2 144.1 L227.4 143.1 L227.7 142.1 L227.9 141.2 L228.2 140.2 L228.5 139.2 L228.8 138.3 L229.1 137.3 L229.4 136.4 L229.7 135.4 L230.0 134.5 L230.4 133.6 L230.8 132.6 L231.2 131.7 L231.6 130.8 L232.1 129.9 L232.6 129.0 L233.1 128.1 L233.6 127.2 L234.1 126.4 L234.6 125.5 L235.1 124.7 L235.6 123.8 L236.2 122.9 L236.7 122.1 L237.3 121.2 L237.9 120.4 L238.5 119.6 L239.1 118.8 L239.8 118.0 L240.5 117.3 L241.2 116.6 L241.9 116.0 L242.7 115.4 L243.5 114.8 L244.4 114.3 L245.3 113.8 L246.2 113.3 L247.0 112.8 L247.9 112.3 L248.8 111.8 L249.7 111.3 L250.6 110.9 L251.5 110.4 L252.4 110.0 L253.3 109.6 L254.3 109.2 L255.2 108.9 L256.1 108.5 L257.1 108.2 L258.0 107.9 L259.0 107.6 L260.0 107.3 L260.9 107.0 L261.9 106.7 L262.9 106.5 L263.9 106.2 L264.8 106.0 L265.8 105.8 L266.8 105.5 L267.8 105.3 L268.7 105.1 L269.7 104.9 L270.7 104.7 L271.7 104.5 L272.7 104.3 L273.7 104.1 L274.7 103.9 L275.7 103.7 L276.6 103.6 L277.6 103.4 L278.6 103.2 L279.6 103.0 L280.6 102.8 L281.6 102.6 L282.6 102.4 L283.6 102.3 L284.5 102.1 L285.5 101.9 L286.5 101.7 L287.5 101.5 L288.5 101.4 L289.5 101.2 L290.5 101.0 L291.5 100.9 L292.5 100.7 L293.5 100.6 L294.5 100.4 L295.5 100.3 L296.5 100.2 L297.5 100.1 L298.5 100.0 L299.5 99.9 L300.5 99.7 L301.5 99.6 L302.5 99.5 L303.5 99.4 L304.4 99.3 L305.4 99.1 L306.4 99.0 L307.4 98.9 L308.4 98.8 L309.4 98.6 L310.4 98.5 L311.4 98.4 L312.4 98.3 L313.4 98.2 L314.4 98.0 L315.4 97.9 L316.4 97.8 L317.4 97.7 L318.4 97.5 L319.4 97.4 L320.4 97.3 L321.4 97.2 L322.4 97.0 L323.4 96.9" fill="none" stroke-linejoin="round" stroke="#ff8080" stroke-width="1.85" stroke-opacity="0.9" />
<path d="M108.3 132.0 L108.8 132.0 L109.3 132.0 L109.8 132.0 L110.3 132.0 L110.8 132.0 L111.3 132.0 L111.8 132.0 L112.3 132.0 L112.8 132.0 L113.3 132.0 L113.8 132.0 L114.3 132.0 L114.8 132.0 L115.3 132.0 L115.8 132.0 L116.3 132.0 L116.8 132.0 L117.3 132.0 L117.8 132.0 L118.3 132.0 L118.8 132.0 L119.3 132.0 L119.8 132.0 L120.3 132.0 L120.8 132.0 L121.3 132.0 L121.8 132.0 L122.3 132.0 L122.8 132.0 L123.3 132.0 L123.8 132.0 L124.3 132.0 L124.8 132.0 L125.3 132.0 L125.8 132.0 L126.3 132.0 L126.8 132.0 L127.3 132.0 L127.8 132.0 L128.3 132.0 L128.8 132.0 L129.3 132.0 L129.8 132.0 L130.3 132.0 L130.8 132.0 L131.3 132.0 L131.8 132.0 L132.3 132.0 L132.8 132.0 L133.3 132.0 L133.8 132.0 L134.3 132.0 L134.8 132.0 L135.3 132.0 L135.9 132.0 L136.4 132.0 L136.9 132.0 L137.4 132.0 L137.9 132.0 L138.4 132.0 L138.9 132.0 L139.4 132.0 L139.9 132.0 L140.4 132.0 L140.9 132.0 L141.4 132.0 L141.9 132.0 L142.4 132.0 L142.9 132.0 L143.4 132.0 L143.9 132.0 L144.4 132.0 L144.9 132.0 L145.4 132.0 L145.9 132.0 L146.4 132.0 L146.9 132.0 L147.4 132.0 L147.9 132.0 L148.4 132.0 L148.9 132.0 L149.4 132.0 L149.9 132.0 L150.4 132.0 L150.9 132.0 L151.4 132.0 L151.9 132.0 L152.4 132.0 L152.9 132.0 L153.4 132.0 L153.9 132.0 L154.4 132.0 L154.9 132.0 L155.4 132.0 L155.9 132.0 L156.4 132.0 L156.9 132.0 L157.4 132.0 L157.9 132.0 L158.4 132.0 L158.9 132.0 L159.4 132.0 L159.9 132.0 L160.4 132.0 L160.9 132.0 L161.4 132.0 L161.9 132.0 L162.4 132.0 L162.9 132.0 L163.4 132.0 L163.9 132.0 L164.4 132.0 L164.9 132.0 L165.4 132.0 L165.9 132.0 L166.4 132.0 L166.9 132.0 L167.4 132.0 L167.9 132.0 L168.4 132.0 L168.9 132.0 L169.4 132.0 L169.9 132.0 L170.4 132.0 L170.9 132.0 L171.4 132.0 L171.9 132.0 L172.4 132.0 L172.9 132.0 L173.4 132.0 L173.9 132.0 L174.4 132.0 L174.9 132.0 L175.4 132.0 L175.9 132.0 L176.4 132.0 L176.9 132.0 L177.4 132.0 L177.9 132.0 L178.4 132.0 L178.9 132.0 L179.4 132.0 L179.9 132.0 L180.4 132.0 L180.9 132.0 L181.4 132.0 L181.9 132.0 L182.4 132.0 L182.9 132.0 L183.4 132.0 L183.9 132.0 L184.4 132.0 L184.9 132.0 L185.4 132.0 L185.9 132.0 L186.4 132.0 L186.9 132.0 L187.4 132.0 L187.9 132.0 L188.4 132.0 L188.9 131.9 L189.4 131.9 L189.9 131.9 L190.4 131.9 L190.9 131.9 L191.4 131.9 L191.9 131.9 L192.5 131.9 L193.0 131.9 L193.5 131.9 L194.0 131.9 L194.5 131.9 L195.0 131.9 L195.5 131.9 L196.0 131.9 L196.5 131.9 L197.0 131.8 L197.5 131.8 L198.0 131.8 L198.5 131.8 L199.0 131.8 L199.5 131.8 L200.0 131.8 L200.5 131.8 L201.0 131.8 L201.5 131.8 L202.0 131.8 L202.5 131.8 L203.0 131.7 L203.5 131.7 L204.0 131.7 L204.5 131.7 L205.0 131.7 L205.5 131.7 L206.0 131.7 L206.5 131.7 L207.0 131.7 L207.5 131.6 L208.0 131.6 L208.5 131.6 L209.0 131.6 L209.5 131.6 L210.0 131.6 L210.5 131.6 L211.0 131.5 L211.5 131.5 L212.0 131.5 L212.5 131.5 L213.0 131.5 L213.5 131.5 L214.0 131.4 L214.5 131.4 L215.0 131.4 L215.5 131.4 L216.0 131.4 L216.5 131.3 L217.0 131.3 L217.5 131.3 L218.0 131.3 L218.5 131.3 L219.0 131.2 L219.5 131.2 L220.0 131.2 L220.5 131.1 L221.0 131.1 L221.5 131.1 L222.0 131.0 L222.5 131.0 L223.0 130.9 L223.5 130.9 L224.0 130.8 L224.5 130.7 L225.0 130.6 L225.5 130.6 L226.0 130.5 L226.5 130.4 L226.9 130.3 L227.4 130.1 L227.9 130.0 L228.4 129.9 L228.9 129.8 L229.4 129.6 L229.9 129.5 L230.4 129.4 L230.8 129.2 L231.3 129.1 L231.8 128.9 L232.3 128.8 L232.7 128.6 L233.2 128.5 L233.7 128.3 L234.1 128.2 L234.6 128.0 L235.0 127.8 L235.5 127.5 L235.9 127.3 L236.4 127.1 L236.8 126.9 L237.3 126.6 L237.7 126.4 L238.2 126.1 L238.6 125.9 L239.0 125.6 L239.5 125.4 L239.9 125.1 L240.4 124.9 L240.8 124.6 L241.3 124.4 L241.7 124.2 L242.2 124.0 L242.6 123.7 L243.1 123.5 L243.5 123.3 L244.0 123.2 L244.5 123.0 L244.9 122.8 L245.4 122.6 L245.9 122.4 L246.3 122.2 L246.8 122.1 L247.3 121.9 L247.7 121.7 L248.2 121.5 L248.7 121.4 L249.2 121.2 L249.6 121.0 L250.1 120.9 L250.6 120.7 L251.1 120.6 L251.5 120.4 L252.0 120.3 L252.5 120.1 L253.0 120.0 L253.5 119.8 L253.9 119.7 L254.4 119.6 L254.9 119.5 L255.4 119.3 L255.9 119.2 L256.4 119.1 L256.8 119.0 L257.3 118.8" fill="none" stroke-linejoin="round" stroke="#ff4040" stroke-width="2.2" stroke-dasharray="2.2 2.87" stroke-opacity="0.9" /><path d="M257.3 118.8 L257.8 118.7 L258.3 118.6 L258.8 118.5 L259.3 118.4 L259.8 118.3 L260.3 118.2 L260.8 118.1 L261.3 118.1 L261.8 118.0 L262.3 118.0 L262.8 117.9 L263.3 117.9 L263.8 117.8 L264.3 117.8 L264.8 117.8 L265.3 117.7 L265.8 117.7 L266.3 117.7 L266.8 117.7 L267.3 117.7 L267.8 117.8 L268.3 117.8 L268.8 117.9 L269.3 118.0 L269.8 118.2 L270.3 118.3 L270.7 118.4 L271.2 118.6 L271.6 118.7 L272.1 119.0 L272.5 119.2 L273.0 119.5 L273.4 119.8 L273.8 120.1 L274.2 120.4 L274.6 120.8 L275.0 121.1 L275.3 121.5 L275.6 121.8 L275.9 122.2 L276.2 122.6 L276.4 123.0 L276.7 123.4 L277.0 123.9 L277.2 124.3 L277.5 124.8 L277.7 125.3 L277.9 125.7 L278.1 126.2 L278.3 126.7 L278.5 127.1 L278.7 127.6 L278.9 128.0 L279.1 128.5" fill="none" stroke-linejoin="round" stroke="#ff4040" stroke-width="2.2" stroke-dasharray="4 1.2" stroke-opacity="0.9" /><path d="M279.1 128.5 L279.3 129.0 L279.5 129.4 L279.6 129.9 L279.8 130.4 L280.0 130.9 L280.1 131.3 L280.3 131.8 L280.4 132.3 L280.6 132.8 L280.7 133.3 L280.9 133.7 L281.0 134.2 L281.1 134.7 L281.2 135.2 L281.4 135.7 L281.5 136.2 L281.6 136.6 L281.7 137.1 L281.9 137.6 L282.0 138.1 L282.1 138.6 L282.2 139.1 L282.3 139.6 L282.4 140.1 L282.5 140.6 L282.6 141.1 L282.7 141.5 L282.8 142.0 L282.9 142.5 L283.0 143.0 L283.1 143.5 L283.1 144.0 L283.2 144.5 L283.2 145.0 L283.3 145.5 L283.3 146.0 L283.4 146.5 L283.4 147.0 L283.5 147.5 L283.5 148.0 L283.6 148.5 L283.6 149.0 L283.7 149.5 L283.7 150.0 L283.7 150.5 L283.8 151.0 L283.8 151.5 L283.8 152.0 L283.9 152.5 L283.9 153.0 L283.9 153.5 L283.9 154.0" fill="none" stroke-linejoin="round" stroke="#ff4040" stroke-width="2.2" stroke-dasharray="2.2 2.87" stroke-opacity="0.9" />
<path d="M284.5 174.5 L284.5 173.5 L284.5 172.5 L284.5 171.5 L284.5 170.5 L284.5 169.5 L284.6 168.4 L284.6 167.4 L284.6 166.4 L284.6 165.4 L284.7 164.4 L284.7 163.4 L284.7 162.4 L284.8 161.4 L284.8 160.4 L284.8 159.4 L284.9 158.4 L284.9 157.4 L284.9 156.4 L285.0 155.4 L285.0 154.4 L285.1 153.3 L285.1 152.3 L285.2 151.3 L285.3 150.3 L285.3 149.3 L285.4 148.3 L285.5 147.3 L285.6 146.3 L285.7 145.3 L285.8 144.3 L285.9 143.3 L286.0 142.3 L286.1 141.3 L286.2 140.3 L286.4 139.3 L286.5 138.3 L286.6 137.3 L286.7 136.3 L286.8 135.3 L287.0 134.3 L287.1 133.3 L287.2 132.3 L287.4 131.3 L287.5 130.3 L287.7 129.3 L287.9 128.3 L288.1 127.3 L288.2 126.3 L288.4 125.3 L288.6 124.4 L288.9 123.4 L289.1 122.4 L289.3 121.4 L289.6 120.4 L289.9 119.5 L290.2 118.5 L290.5 117.5 L290.8 116.6 L291.1 115.6 L291.5 114.7 L291.8 113.7 L292.2 112.8 L292.5 111.8 L292.9 110.9 L293.4 110.0 L293.8 109.1 L294.2 108.2 L294.7 107.3 L295.2 106.4 L295.8 105.6 L296.4 104.7 L297.0 103.9 L297.6 103.1 L298.3 102.4 L299.0 101.7 L299.8 101.1 L300.6 100.5 L301.5 99.9 L302.4 99.5 L303.4 99.2 L304.3 99.0 L305.3 98.8 L306.3 98.6 L307.3 98.5 L308.3 98.4 L309.3 98.3 L310.3 98.1 L311.3 98.0 L312.4 98.0 L313.4 97.9 L314.4 97.8 L315.4 97.7 L316.4 97.6 L317.4 97.5 L318.4 97.4 L319.4 97.3 L320.4 97.2 L321.4 97.2 L322.4 97.1 L323.4 97.0" fill="none" stroke-linejoin="round" stroke="#ff4040" stroke-width="1.85" stroke-opacity="0.9" />
<path d="M108.3 124.0 L109.3 124.0 L110.3 124.0 L111.3 124.0 L112.3 124.0 L113.3 124.0 L114.3 124.0 L115.3 124.0 L116.3 124.0 L117.3 124.0 L118.3 124.0 L119.3 124.0 L120.4 124.0 L121.4 124.0 L122.4 124.0 L123.4 124.0 L124.4 124.0 L125.4 124.0 L126.4 124.0 L127.4 124.0 L128.4 124.0 L129.4 124.0 L130.4 124.0 L131.4 124.0 L132.4 124.0 L133.4 124.0 L134.4 124.0 L135.4 124.0 L136.4 124.0 L137.4 124.0 L138.4 124.0 L139.4 124.0 L140.4 124.0 L141.4 124.0 L142.4 124.0 L143.5 124.0 L144.5 124.0 L145.5 124.0 L146.5 124.0 L147.5 124.0 L148.5 124.0 L149.5 124.0 L150.5 124.0 L151.5 124.0 L152.5 124.0 L153.5 124.0 L154.5 124.0 L155.5 124.0 L156.5 124.0 L157.5 124.0 L158.5 124.0 L159.5 124.0 L160.5 124.0 L161.5 124.0 L162.5 124.0 L163.5 124.0 L164.5 124.0 L165.5 124.0 L166.6 124.0 L167.6 124.0 L168.6 124.0 L169.6 124.0 L170.6 124.0 L171.6 124.0 L172.6 124.0 L173.6 124.0 L174.6 124.0 L175.6 124.0 L176.6 124.0 L177.6 123.9 L178.6 123.9 L179.6 123.9 L180.6 123.9 L181.6 123.9 L182.6 123.9 L183.6 123.8 L184.6 123.8 L185.6 123.8 L186.6 123.8 L187.6 123.8 L188.6 123.7 L189.6 123.7 L190.7 123.7 L191.7 123.7 L192.7 123.6 L193.7 123.6 L194.7 123.5 L195.7 123.5 L196.7 123.4 L197.7 123.4 L198.7 123.3 L199.7 123.2 L200.7 123.2 L201.7 123.1 L202.7 123.0 L203.7 122.9 L204.7 122.8 L205.7 122.7 L206.7 122.6 L207.7 122.5 L208.7 122.4 L209.7 122.2 L210.7 122.1 L211.7 121.9 L212.7 121.8 L213.6 121.6 L214.6 121.4 L215.6 121.2 L216.6 120.9 L217.5 120.7 L218.5 120.4 L219.5 120.1 L220.4 119.8 L221.4 119.4 L222.3 119.1 L223.3 118.7 L224.2 118.3 L225.1 118.0 L226.0 117.6 L226.9 117.1 L227.8 116.7 L228.7 116.2 L229.6 115.7 L230.5 115.3 L231.4 114.8 L232.3 114.3 L233.2 113.9 L234.1 113.5 L235.0 113.0 L235.9 112.6 L236.8 112.2 L237.7 111.7 L238.6 111.3 L239.5 110.8 L240.4 110.3 L241.2 109.8 L242.1 109.2 L242.9 108.6 L243.7 108.0 L244.5 107.4 L245.3 106.8 L246.1 106.2 L246.9 105.6 L247.7 105.0 L248.6 104.4 L249.4 103.9 L250.2 103.4 L251.1 102.8 L252.0 102.3 L252.8 101.8 L253.7 101.3 L254.6 100.8 L255.4 100.3 L256.3 99.8 L257.2 99.4 L258.1 98.9 L259.0 98.5 L259.9 98.0 L260.8 97.6 L261.7 97.2 L262.7 96.8 L263.6 96.4 L264.5 96.0 L265.5 95.6 L266.4 95.3 L267.3 94.9 L268.3 94.6 L269.2 94.3 L270.2 93.9 L271.1 93.6 L272.1 93.3 L273.1 92.9 L274.0 92.7 L275.0 92.4 L276.0 92.3 L277.0 92.2 L278.0 92.1 L279.0 92.1 L280.0 92.0 L281.0 92.0 L282.0 92.0" fill="none" stroke-linejoin="round" stroke="#ff0000" stroke-width="2.2" stroke-dasharray="2.2 2.87" stroke-opacity="0.9" />
<path d="M282.0 92.0 L283.1 92.1 L284.1 92.3 L285.1 92.5 L286.1 92.8 L287.1 93.2 L288.0 93.5 L288.9 93.9 L289.8 94.4 L290.8 95.0 L291.6 95.7 L292.4 96.3 L293.0 97.1 L293.7 97.8 L294.2 98.6 L294.8 99.5 L295.2 100.5 L295.6 101.5 L296.0 102.5" fill="none" stroke-linejoin="round" stroke="#ff0000" stroke-width="1.85" stroke-opacity="0.9" />
<path d="M296.0 102.5 L296.4 103.4 L296.8 104.4 L297.2 105.3 L297.5 106.3 L297.8 107.3 L298.1 108.3 L298.2 109.2 L298.4 110.2 L298.6 111.2 L298.7 112.2 L298.9 113.2 L299.0 114.3 L299.1 115.3 L299.2 116.3 L299.3 117.3 L299.4 118.3 L299.5 119.4 L299.6 120.4 L299.7 121.4 L299.8 122.4 L299.9 123.5 L300.0 124.5 L300.0 125.5 L300.1 126.5 L300.2 127.5 L300.3 128.5 L300.3 129.6 L300.4 130.6 L300.5 131.6 L300.5 132.6 L300.6 133.6 L300.7 134.6 L300.7 135.7 L300.8 136.7 L300.8 137.7 L300.9 138.7 L300.9 139.7 L300.9 140.8 L301.0 141.8 L301.0 142.8" fill="none" stroke-linejoin="round" stroke="#ff0000" stroke-width="2.2" stroke-dasharray="2.2 2.87" stroke-opacity="0.9" />
<path d="M301.5 128.0 L301.6 127.0 L301.8 126.0 L301.9 125.0 L302.0 124.0 L302.2 123.0 L302.3 122.0 L302.4 121.0 L302.6 120.0 L302.7 119.0 L302.9 118.0 L303.1 117.0 L303.2 116.0 L303.4 115.0 L303.6 114.0 L303.7 113.0 L303.9 112.0 L304.1 111.0 L304.3 110.0 L304.4 109.0 L304.6 108.0 L304.8 107.0 L305.0 106.0 L305.3 105.1 L305.5 104.1 L305.8 103.2 L306.2 102.2 L306.6 101.2 L307.1 100.2 L307.7 99.5 L308.4 99.0 L309.3 98.6 L310.3 98.3 L311.4 98.0 L312.3 97.9 L313.3 97.8 L314.4 97.7 L315.4 97.6 L316.4 97.5 L317.4 97.4 L318.4 97.3 L319.4 97.2 L320.4 97.1 L321.4 97.0 L322.4 96.9 L323.4 96.8" fill="none" stroke-linejoin="round" stroke="#ff0000" stroke-width="1.85" stroke-opacity="0.9" />
<path d="M108.3 130.8 L109.3 130.8 L110.3 130.8 L111.3 130.8 L112.3 130.8 L113.3 130.8 L114.3 130.8 L115.3 130.8 L116.3 130.8 L117.3 130.8 L118.3 130.8 L119.3 130.8 L120.3 130.8 L121.3 130.8 L122.3 130.8 L123.3 130.8 L124.3 130.8 L125.3 130.8 L126.3 130.8 L127.3 130.8 L128.3 130.8 L129.3 130.8 L130.3 130.8 L131.3 130.8 L132.3 130.8 L133.3 130.8 L134.3 130.8 L135.3 130.8 L136.3 130.8 L137.3 130.8 L138.3 130.7 L139.3 130.7 L140.3 130.7 L141.3 130.7 L142.3 130.7 L143.3 130.7 L144.3 130.7 L145.3 130.7 L146.3 130.7 L147.3 130.7 L148.3 130.7 L149.3 130.7 L150.3 130.7 L151.3 130.7 L152.3 130.7 L153.3 130.7 L154.3 130.7 L155.3 130.7 L156.3 130.6 L157.3 130.6 L158.3 130.6 L159.3 130.6 L160.3 130.6 L161.3 130.5 L162.3 130.5 L163.3 130.5 L164.3 130.5 L165.3 130.4 L166.3 130.4 L167.3 130.4 L168.3 130.4 L169.3 130.3 L170.3 130.3 L171.3 130.2 L172.3 130.2 L173.3 130.1 L174.3 130.1 L175.3 130.0 L176.3 129.9 L177.3 129.8 L178.3 129.7 L179.3 129.7 L180.3 129.6 L181.3 129.5 L182.3 129.4 L183.3 129.3 L184.3 129.2 L185.3 129.1 L186.2 129.0 L187.2 128.9 L188.2 128.8 L189.2 128.7 L190.2 128.6 L191.2 128.4 L192.2 128.3 L193.2 128.1 L194.2 128.0 L195.2 127.8 L196.1 127.6 L197.1 127.5 L198.1 127.3 L199.1 127.1 L200.1 126.9 L201.1 126.7 L202.0 126.5 L203.0 126.3 L204.0 126.0 L205.0 125.8 L205.9 125.6 L206.9 125.3 L207.9 125.1 L208.8 124.8 L209.8 124.5 L210.8 124.2 L211.7 123.9 L212.7 123.6 L213.6 123.3 L214.5 122.9 L215.5 122.6 L216.4 122.2 L217.3 121.9 L218.3 121.5 L219.2 121.1 L220.1 120.6 L221.0 120.2 L221.9 119.8 L222.8 119.4 L223.7 118.9 L224.5 118.4 L225.4 117.9 L226.3 117.4 L227.1 116.8 L228.0 116.3 L228.8 115.8 L229.7 115.3 L230.5 114.8 L231.4 114.3 L232.3 113.7 L233.1 113.2 L234.0 112.7 L234.8 112.2 L235.7 111.7 L236.6 111.2 L237.4 110.7 L238.3 110.2 L239.2 109.7 L240.1 109.3 L241.0 108.8 L241.8 108.4 L242.7 107.9 L243.7 107.5 L244.6 107.1 L245.5 106.7 L246.4 106.3 L247.3 105.9 L248.3 105.5 L249.2 105.2 L250.1 104.9 L251.1 104.6 L252.0 104.3 L253.0 104.0 L254.0 103.8 L254.9 103.5 L255.9 103.3 L256.9 103.1 L257.9 102.9 L258.9 102.6 L259.8 102.4 L260.8 102.2 L261.8 102.0 L262.8 101.8 L263.8 101.7 L264.7 101.5 L265.7 101.3 L266.7 101.1 L267.7 101.0 L268.7 100.8 L269.7 100.7 L270.7 100.5 L271.7 100.3 L272.6 100.2 L273.6 100.0 L274.6 99.9 L275.6 99.7 L276.6 99.6 L277.6 99.5 L278.6 99.3 L279.6 99.2 L280.6 99.1 L281.6 98.9 L282.5 98.8 L283.5 98.7 L284.5 98.6 L285.5 98.5 L286.5 98.4 L287.5 98.3 L288.5 98.2 L289.5 98.0 L290.5 98.0 L291.5 97.9 L292.5 97.8 L293.5 97.7 L294.5 97.6 L295.5 97.5 L296.5 97.4 L297.5 97.3 L298.5 97.2 L299.5 97.1 L300.5 97.1 L301.5 97.0 L302.5 96.9 L303.4 96.8 L304.4 96.7 L305.4 96.7 L306.4 96.6 L307.4 96.5 L308.4 96.4 L309.4 96.3 L310.4 96.3 L311.4 96.2 L312.4 96.1 L313.4 96.1 L314.4 96.0 L315.4 95.9 L316.4 95.8 L317.4 95.8 L318.4 95.7 L319.4 95.6 L320.4 95.6 L321.4 95.5 L322.4 95.5 L323.4 95.4" fill="none" stroke-linejoin="round" stroke="#000" stroke-width="1.85" />
</g>
<g clip-path="url(#cp2)">
<path d="M514.0 145.7 L514.5 145.7 L515.0 145.7 L515.5 145.7 L516.0 145.7 L516.5 145.7 L517.0 145.7 L517.5 145.7 L518.0 145.7 L518.5 145.7 L519.0 145.7 L519.5 145.7 L520.0 145.7 L520.5 145.7 L521.0 145.7 L521.5 145.7 L522.0 145.7 L522.5 145.7 L523.0 145.7 L523.5 145.7 L524.0 145.7 L524.5 145.7 L525.0 145.7 L525.5 145.7 L526.0 145.7 L526.5 145.7 L527.0 145.7 L527.5 145.7 L528.0 145.7 L528.5 145.7 L529.0 145.7 L529.5 145.7 L530.0 145.7 L530.5 145.7 L531.0 145.7 L531.5 145.7 L532.0 145.6 L532.5 145.6 L533.0 145.6 L533.5 145.6 L534.0 145.6 L534.5 145.6 L535.0 145.6 L535.5 145.6 L536.0 145.6 L536.5 145.6 L537.0 145.6 L537.5 145.6 L538.0 145.6 L538.5 145.6 L539.0 145.6 L539.5 145.6 L540.0 145.6 L540.5 145.6 L541.0 145.6 L541.5 145.6 L542.0 145.6 L542.5 145.6 L543.0 145.6 L543.5 145.6 L544.0 145.6 L544.5 145.6 L545.0 145.6 L545.5 145.6 L546.0 145.6 L546.5 145.6 L547.0 145.6 L547.5 145.6 L548.0 145.6 L548.5 145.6 L549.0 145.6 L549.5 145.6 L550.0 145.6 L550.5 145.6 L551.0 145.6 L551.5 145.6 L552.0 145.5 L552.5 145.5 L553.0 145.5 L553.5 145.5 L554.0 145.5 L554.5 145.5 L555.0 145.5 L555.5 145.5 L556.0 145.5 L556.5 145.5 L557.0 145.5 L557.5 145.5 L558.0 145.5 L558.5 145.5 L559.0 145.5 L559.5 145.5 L560.0 145.5 L560.5 145.5 L561.0 145.5 L561.5 145.5 L562.0 145.5 L562.5 145.5 L563.0 145.5 L563.5 145.5 L564.0 145.5 L564.5 145.5 L565.0 145.5 L565.5 145.5 L566.0 145.5 L566.5 145.5 L567.0 145.5 L567.5 145.5 L568.0 145.4 L568.5 145.4 L569.0 145.4 L569.5 145.4 L570.0 145.4 L570.5 145.4 L571.0 145.4 L571.5 145.4 L572.0 145.4 L572.5 145.4 L573.0 145.4 L573.5 145.4 L574.0 145.4 L574.5 145.4 L575.0 145.4 L575.5 145.4 L576.0 145.4 L576.5 145.4 L577.0 145.4 L577.5 145.4 L578.0 145.4 L578.5 145.4 L579.0 145.4 L579.5 145.4 L580.1 145.4 L580.6 145.3 L581.1 145.3 L581.6 145.3 L582.1 145.3 L582.6 145.3 L583.1 145.3 L583.6 145.3 L584.1 145.3 L584.6 145.3 L585.1 145.3 L585.6 145.3 L586.1 145.3 L586.6 145.3 L587.1 145.3 L587.6 145.3 L588.1 145.3 L588.6 145.3 L589.1 145.3 L589.6 145.2 L590.1 145.2 L590.6 145.2 L591.1 145.2 L591.6 145.2 L592.1 145.2 L592.6 145.2 L593.1 145.2 L593.6 145.2 L594.1 145.2 L594.6 145.2 L595.1 145.2 L595.6 145.2 L596.1 145.2 L596.6 145.2 L597.1 145.1 L597.6 145.1 L598.1 145.1 L598.6 145.1 L599.1 145.1 L599.6 145.1 L600.1 145.1 L600.6 145.1 L601.1 145.1 L601.6 145.1 L602.1 145.1 L602.6 145.1 L603.1 145.0 L603.6 145.0 L604.1 145.0 L604.6 145.0 L605.1 145.0 L605.6 145.0 L606.1 145.0 L606.6 145.0 L607.1 145.0 L607.6 144.9 L608.1 144.9 L608.6 144.9 L609.1 144.9 L609.6 144.9 L610.1 144.9 L610.6 144.9 L611.1 144.8 L611.6 144.8 L612.1 144.8 L612.6 144.8 L613.1 144.8 L613.6 144.7 L614.1 144.7 L614.6 144.7 L615.1 144.7 L615.6 144.7 L616.1 144.6 L616.6 144.6 L617.1 144.6 L617.6 144.6 L618.1 144.5 L618.6 144.5 L619.1 144.5 L619.6 144.4 L620.1 144.4 L620.6 144.4 L621.0 144.3 L621.5 144.2 L622.0 144.1 L622.5 144.0 L623.0 143.9 L623.5 143.8 L624.0 143.6 L624.4 143.5 L624.9 143.3 L625.4 143.2 L625.9 143.0 L626.4 142.8 L626.8 142.7 L627.3 142.5 L627.8 142.3 L628.3 142.1 L628.7 141.9 L629.2 141.7 L629.7 141.6 L630.1 141.4 L630.6 141.2 L631.1 141.0 L631.5 140.8 L632.0 140.6 L632.4 140.4 L632.9 140.2 L633.3 140.0 L633.8 139.8 L634.2 139.6 L634.7 139.4 L635.1 139.1 L635.6 138.9 L636.0 138.7 L636.5 138.4 L636.9 138.2 L637.4 138.0 L637.8 137.7 L638.2 137.5" fill="none" stroke-linejoin="round" stroke="#ff0000" stroke-width="2.2" stroke-dasharray="2.2 2.87" stroke-opacity="0.9" /><path d="M638.2 137.5 L638.7 137.2 L639.1 137.0 L639.6 136.7 L640.0 136.5 L640.4 136.3 L640.9 136.0 L641.3 135.8 L641.8 135.5 L642.2 135.3 L642.6 135.0 L643.1 134.8 L643.5 134.5 L643.9 134.3 L644.4 134.0 L644.8 133.8 L645.2 133.5 L645.6 133.3 L646.1 133.0 L646.5 132.8 L646.9 132.5 L647.4 132.2 L647.8 132.0 L648.2 131.7 L648.6 131.5 L649.1 131.2 L649.5 130.9 L649.9 130.7 L650.3 130.4 L650.8 130.2 L651.2 129.9 L651.6 129.6 L652.1 129.4 L652.5 129.1 L652.9 128.9 L653.4 128.6 L653.8 128.3 L654.2 128.1 L654.6 127.8 L655.1 127.6 L655.5 127.3 L655.9 127.0 L656.3 126.8 L656.8 126.5 L657.2 126.3 L657.6 126.0 L658.1 125.7 L658.5 125.5 L658.9 125.2 L659.3 125.0 L659.8 124.7 L660.2 124.5 L660.6 124.2 L661.1 124.0 L661.5 123.7 L662.0 123.5 L662.4 123.2 L662.8 123.0 L663.3 122.8 L663.7 122.5 L664.2 122.3" fill="none" stroke-linejoin="round" stroke="#ff0000" stroke-width="2.2" stroke-dasharray="4.5 1.8" stroke-opacity="0.9" /><path d="M664.2 122.3 L664.6 122.1 L665.0 121.9 L665.5 121.6 L665.9 121.4 L666.4 121.2 L666.8 121.0 L667.3 120.7 L667.7 120.5 L668.2 120.3 L668.6 120.1 L669.1 119.8 L669.5 119.6 L670.0 119.4 L670.4 119.2 L670.9 119.0 L671.3 118.8 L671.8 118.5 L672.2 118.3 L672.7 118.1 L673.1 117.9 L673.6 117.7 L674.0 117.4 L674.5 117.2 L674.9 117.0 L675.4 116.8 L675.8 116.5 L676.3 116.3 L676.7 116.1 L677.2 115.9 L677.6 115.6 L678.1 115.4 L678.5 115.2 L679.0 115.0 L679.4 114.8 L679.9 114.6 L680.3 114.4 L680.8 114.2 L681.3 114.0 L681.7 113.8 L682.2 113.6 L682.6 113.4 L683.1 113.2 L683.6 113.0 L684.0 112.9 L684.5 112.7 L685.0 112.5 L685.5 112.3 L685.9 112.2 L686.4 112.0 L686.9 111.8 L687.3 111.7 L687.8 111.5 L688.3 111.3 L688.8 111.2 L689.3 111.0 L689.7 110.9 L690.2 110.8" fill="none" stroke-linejoin="round" stroke="#ff0000" stroke-width="2.2" stroke-dasharray="3 2" stroke-opacity="0.9" /><path d="M690.2 110.8 L690.7 110.6 L691.2 110.5 L691.7 110.4 L692.2 110.3 L692.7 110.1 L693.1 110.0 L693.6 110.0 L694.1 109.9 L694.6 109.8 L695.1 109.7 L695.6 109.7 L696.1 109.6 L696.6 109.5 L697.1 109.4 L697.6 109.4 L698.1 109.3 L698.6 109.3 L699.1 109.2 L699.6 109.2 L700.1 109.1 L700.6 109.1 L701.1 109.1 L701.6 109.1 L702.1 109.2 L702.5 109.3 L703.0 109.4 L703.5 109.6 L704.0 109.8 L704.4 110.1" fill="none" stroke-linejoin="round" stroke="#ff0000" stroke-width="2.2" stroke-dasharray="2.2 2.87" stroke-opacity="0.9" /><path d="M704.4 110.1 L704.9 110.4 L705.3 110.6 L705.8 110.9 L706.2 111.2 L706.6 111.5 L706.9 111.8 L707.3 112.1 L707.7 112.4 L708.0 112.8 L708.4 113.2 L708.7 113.5 L709.0 113.9 L709.4 114.4 L709.7 114.8 L710.0 115.2 L710.2 115.7 L710.5 116.1 L710.7 116.5 L710.9 117.0 L711.1 117.4 L711.3 117.8 L711.5 118.3 L711.7 118.8 L711.9 119.2 L712.0 119.7 L712.2 120.2 L712.3 120.7 L712.5 121.2 L712.6 121.7 L712.7 122.2 L712.8 122.7 L713.0 123.1 L713.1 123.6 L713.2 124.1 L713.3 124.6 L713.4 125.1 L713.4 125.6 L713.5 126.1 L713.6 126.6 L713.7 127.1 L713.8 127.6 L713.8 128.1 L713.9 128.6 L714.0 129.1 L714.1 129.6 L714.2 130.0 L714.3 130.5 L714.4 131.0 L714.5 131.5 L714.6 132.0" fill="none" stroke-linejoin="round" stroke="#ff0000" stroke-width="2.2" stroke-dasharray="4 1.2" stroke-opacity="0.9" />
<path d="M716.2 146.5 L716.3 145.5 L716.3 144.5 L716.4 143.5 L716.4 142.5 L716.5 141.5 L716.6 140.5 L716.6 139.5 L716.7 138.4 L716.8 137.4 L716.8 136.4 L716.9 135.4 L717.0 134.4 L717.0 133.4 L717.1 132.4 L717.2 131.4 L717.2 130.4 L717.3 129.4 L717.4 128.4 L717.5 127.4 L717.5 126.4 L717.6 125.4 L717.7 124.4 L717.7 123.4 L717.8 122.3 L717.9 121.3 L718.0 120.3 L718.1 119.3 L718.2 118.3 L718.3 117.3 L718.4 116.3 L718.5 115.3 L718.6 114.3 L718.8 113.3 L718.9 112.3 L719.1 111.3 L719.2 110.3 L719.4 109.3 L719.6 108.3 L719.8 107.4 L720.0 106.4 L720.2 105.4 L720.4 104.4 L720.7 103.4 L720.9 102.5 L721.2 101.5 L721.5 100.5 L721.7 99.5 L722.0 98.6 L722.3 97.6 L722.6 96.6 L722.9 95.7 L723.2 94.7 L723.5 93.7 L723.8 92.8 L724.1 91.8 L724.4 90.8 L724.7 89.9 L725.0 88.9 L725.3 87.9 L725.6 87.0 L725.9 86.0 L726.2 85.1 L726.5 84.1 L726.8 83.1 L727.2 82.2 L727.5 81.2 L727.8 80.3 L728.2 79.3 L728.5 78.3 L728.8 77.4 L729.2 76.4 L729.5 75.5 L729.9 74.5 L730.3 73.6 L730.6 72.7 L731.0 71.7 L731.4 70.8 L731.8 69.9 L732.1 68.9 L732.5 68.0 L732.9 67.1 L733.3 66.2 L733.8 65.3 L734.2 64.4 L734.7 63.5 L735.2 62.6 L735.7 61.7 L736.2 60.9 L736.7 60.0" fill="none" stroke-linejoin="round" stroke="#ff0000" stroke-width="1.85" stroke-opacity="0.9" />
<path d="M514.0 152.0 L514.5 152.0 L515.0 152.0 L515.5 152.0 L516.0 152.0 L516.5 152.0 L517.0 152.0 L517.5 152.0 L518.0 152.0 L518.5 152.0 L519.0 152.0 L519.5 152.0 L520.0 152.0 L520.5 152.0 L521.0 152.0 L521.5 152.0 L522.0 152.0 L522.5 152.0 L523.0 152.0 L523.5 152.0 L524.0 152.0 L524.5 152.0 L525.0 152.0 L525.5 152.0 L526.0 152.0 L526.5 152.0 L527.0 152.0 L527.5 152.0 L528.0 152.0 L528.5 152.0 L529.0 152.0 L529.5 152.0 L530.0 152.0 L530.5 152.0 L531.0 152.0 L531.5 152.0 L532.0 152.0 L532.5 152.0 L533.0 152.0 L533.5 152.0 L534.0 152.0 L534.5 152.0 L535.0 152.0 L535.5 152.0 L536.0 152.0 L536.5 152.0 L537.0 152.0 L537.5 152.0 L538.0 152.0 L538.5 152.0 L539.0 152.0 L539.5 152.0 L540.0 152.0 L540.5 152.0 L541.0 152.0 L541.5 152.0 L542.0 152.0 L542.5 152.0 L543.0 152.0 L543.5 152.0 L544.0 152.0 L544.5 152.0 L545.0 152.0 L545.5 152.0 L546.0 152.0 L546.5 152.0 L547.0 152.0 L547.5 152.0 L548.0 152.0 L548.5 152.0 L549.0 152.0 L549.5 152.0 L550.0 152.0 L550.5 152.0 L551.0 152.0 L551.5 152.0 L552.0 152.0 L552.5 152.0 L553.0 152.0 L553.5 152.0 L554.0 152.0 L554.5 152.0 L555.0 152.0 L555.5 152.0 L556.0 152.0 L556.5 152.0 L557.0 152.0 L557.5 152.0 L558.1 152.0 L558.6 152.0 L559.1 152.0 L559.6 152.0 L560.1 152.0 L560.6 152.0 L561.1 152.0 L561.6 152.0 L562.1 152.0 L562.6 152.0 L563.1 152.0 L563.6 152.0 L564.1 152.0 L564.6 152.0 L565.1 152.0 L565.6 152.0 L566.1 152.0 L566.6 152.0 L567.1 152.0 L567.6 152.0 L568.1 152.0 L568.6 152.0 L569.1 152.0 L569.6 152.0 L570.1 152.0 L570.6 152.0 L571.1 152.0 L571.6 152.0 L572.1 152.0 L572.6 152.0 L573.1 152.0 L573.6 152.0 L574.1 152.0 L574.6 152.0 L575.1 152.0 L575.6 152.0 L576.1 152.0 L576.6 152.0 L577.1 152.0 L577.6 152.0 L578.1 152.0 L578.6 152.0 L579.1 152.0 L579.6 152.0 L580.1 152.0 L580.6 152.0 L581.1 152.0 L581.6 152.0 L582.1 152.0 L582.6 152.0 L583.1 152.0 L583.6 152.0 L584.1 152.0 L584.6 152.0 L585.1 152.0 L585.6 152.0 L586.1 152.0 L586.6 152.0 L587.1 152.0 L587.6 152.0 L588.1 152.0 L588.6 152.0 L589.1 152.0 L589.6 152.0 L590.1 152.0 L590.6 152.0 L591.1 152.0 L591.6 152.0 L592.1 152.0 L592.6 152.0 L593.1 152.0 L593.6 152.0 L594.1 152.0 L594.6 152.0 L595.1 152.0 L595.6 152.0 L596.1 152.0 L596.6 152.0 L597.1 152.0 L597.6 152.0 L598.1 152.0 L598.6 152.0 L599.1 152.0 L599.6 152.0 L600.1 152.0 L600.6 152.0 L601.1 152.0 L601.6 152.0 L602.1 152.0 L602.6 152.0 L603.1 152.0 L603.6 152.0 L604.1 152.0 L604.6 151.9 L605.1 151.9 L605.6 151.9 L606.1 151.9 L606.6 151.9 L607.1 151.9 L607.6 151.8 L608.1 151.8 L608.6 151.8 L609.1 151.8 L609.6 151.7 L610.1 151.7 L610.6 151.7 L611.1 151.7 L611.6 151.6 L612.1 151.6 L612.6 151.6 L613.1 151.5 L613.6 151.5 L614.1 151.5 L614.6 151.4 L615.1 151.4 L615.6 151.4 L616.1 151.3 L616.6 151.3 L617.1 151.3 L617.6 151.2 L618.1 151.2 L618.6 151.1 L619.1 151.1 L619.6 151.0 L620.0 151.0 L620.5 150.9 L621.0 150.9 L621.5 150.8 L622.0 150.7 L622.5 150.6 L623.0 150.5 L623.5 150.4 L624.0 150.3 L624.5 150.2 L624.9 150.0 L625.4 149.9 L625.9 149.7 L626.4 149.6 L626.9 149.4 L627.4 149.3 L627.8 149.1 L628.3 149.0 L628.8 148.8 L629.3 148.7 L629.7 148.5 L630.2 148.3 L630.7 148.2 L631.2 148.0 L631.6 147.8 L632.1 147.7 L632.5 147.5 L633.0 147.3 L633.5 147.1 L633.9 146.9 L634.4 146.7 L634.8 146.5 L635.3 146.2 L635.7 146.0 L636.2 145.8 L636.6 145.6 L637.1 145.3 L637.5 145.1 L638.0 144.9 L638.4 144.7" fill="none" stroke-linejoin="round" stroke="#ff4040" stroke-width="2.2" stroke-dasharray="2.2 2.87" stroke-opacity="0.9" /><path d="M638.4 144.7 L638.9 144.4 L639.3 144.2 L639.8 144.0 L640.2 143.7 L640.7 143.5 L641.1 143.3 L641.6 143.1 L642.0 142.8 L642.5 142.6 L642.9 142.4 L643.3 142.2 L643.8 141.9 L644.2 141.7 L644.7 141.5 L645.1 141.2 L645.5 141.0 L646.0 140.7 L646.4 140.5 L646.9 140.3 L647.3 140.0 L647.7 139.8 L648.2 139.5 L648.6 139.3 L649.1 139.1 L649.5 138.8 L649.9 138.6 L650.4 138.3 L650.8 138.1 L651.3 137.8 L651.7 137.6 L652.1 137.4 L652.6 137.1 L653.0 136.9 L653.4 136.6 L653.9 136.4 L654.3 136.1 L654.7 135.9 L655.2 135.7 L655.6 135.4 L656.1 135.2 L656.5 134.9 L656.9 134.7 L657.4 134.4 L657.8 134.2 L658.2 133.9 L658.7 133.7 L659.1 133.4 L659.5 133.2 L660.0 133.0 L660.4 132.7 L660.9 132.5 L661.3 132.2 L661.7 132.0 L662.2 131.8 L662.6 131.5 L663.1 131.3 L663.5 131.1 L664.0 130.8 L664.4 130.6 L664.8 130.4 L665.3 130.1 L665.7 129.9 L666.2 129.7 L666.6 129.4 L667.1 129.2 L667.5 129.0 L668.0 128.8 L668.4 128.5 L668.9 128.3 L669.3 128.1 L669.8 127.9 L670.2 127.7 L670.7 127.4 L671.1 127.2 L671.6 127.0 L672.0 126.8 L672.5 126.6 L672.9 126.4 L673.4 126.2 L673.8 126.0 L674.3 125.8 L674.7 125.6 L675.2 125.3 L675.7 125.1 L676.1 124.9 L676.6 124.7 L677.0 124.5 L677.5 124.3 L678.0 124.1 L678.4 123.9 L678.9 123.7 L679.4 123.5 L679.8 123.3 L680.3 123.2 L680.8 123.0 L681.2 122.8 L681.7 122.7 L682.2 122.5 L682.7 122.4 L683.1 122.3 L683.6 122.1 L684.1 122.0 L684.6 121.9 L685.1 121.8 L685.6 121.7 L686.1 121.5 L686.5 121.4 L687.0 121.3 L687.5 121.2 L688.0 121.1" fill="none" stroke-linejoin="round" stroke="#ff4040" stroke-width="2.2" stroke-dasharray="2.3 2.2" stroke-opacity="0.9" /><path d="M688.0 121.1 L688.5 121.0 L689.0 120.9 L689.5 120.9 L690.0 120.8 L690.5 120.8 L691.0 120.7 L691.5 120.7 L692.0 120.7 L692.5 120.7 L693.0 120.8 L693.5 120.9 L694.0 121.0 L694.5 121.1 L695.0 121.3 L695.5 121.5 L696.0 121.7 L696.4 121.8 L696.9 122.0 L697.3 122.2 L697.7 122.5 L698.1 122.7 L698.5 123.0 L698.9 123.4 L699.2 123.7 L699.6 124.1 L699.9 124.5 L700.3 124.9 L700.6 125.3 L700.9 125.7 L701.2 126.1 L701.5 126.5 L701.8 126.9 L702.0 127.3 L702.3 127.8 L702.5 128.2 L702.8 128.6 L703.0 129.1 L703.2 129.6 L703.4 130.0 L703.7 130.5 L703.9 130.9 L704.1 131.4 L704.2 131.9 L704.4 132.3 L704.6 132.8 L704.8 133.3 L704.9 133.7 L705.1 134.2 L705.2 134.7 L705.4 135.2 L705.5 135.6 L705.7 136.1 L705.8 136.6 L706.0 137.1 L706.1 137.6 L706.2 138.1 L706.3 138.6 L706.4 139.0 L706.6 139.5 L706.7 140.0 L706.8 140.5 L706.9 141.0 L707.0 141.5 L707.1 142.0 L707.2 142.5 L707.2 143.0 L707.3 143.5 L707.4 143.9 L707.5 144.4" fill="none" stroke-linejoin="round" stroke="#ff4040" stroke-width="2.2" stroke-dasharray="4 1.5" stroke-opacity="0.9" /><path d="M707.5 144.4 L707.6 144.9 L707.7 145.4 L707.8 145.9 L707.8 146.4 L707.9 146.9 L708.0 147.4 L708.0 147.9 L708.1 148.4 L708.2 148.9 L708.2 149.4 L708.3 149.9 L708.4 150.4 L708.4 150.9 L708.5 151.4 L708.5 151.9 L708.6 152.4 L708.6 152.9 L708.7 153.4 L708.8 153.9 L708.8 154.4 L708.9 154.9 L708.9 155.4 L709.0 155.9 L709.0 156.4 L709.0 156.9 L709.1 157.4 L709.1 157.9 L709.1 158.4 L709.2 158.9 L709.2 159.4 L709.2 159.9 L709.2 160.4 L709.2 160.9 L709.2 161.4 L709.2 161.9 L709.2 162.4 L709.2 162.9 L709.2 163.4 L709.3 163.9 L709.3 164.4 L709.3 164.9 L709.3 165.4 L709.3 165.9 L709.3 166.4 L709.3 166.9 L709.3 167.4 L709.3 167.9 L709.3 168.4 L709.3 168.9 L709.3 169.4 L709.3 169.9 L709.3 170.4 L709.3 170.9 L709.3 171.4 L709.3 171.9 L709.3 172.4 L709.3 172.9 L709.3 173.4 L709.3 173.9 L709.3 174.4 L709.3 174.9 L709.3 175.4 L709.3 175.9 L709.3 176.4 L709.3 176.9 L709.3 177.4 L709.3 177.9 L709.3 178.4 L709.3 178.9 L709.3 179.4 L709.3 179.9 L709.3 180.4 L709.3 180.9 L709.3 181.4 L709.3 181.9 L709.3 182.4 L709.3 182.9 L709.3 183.4 L709.3 183.9 L709.3 184.4 L709.3 184.9 L709.3 185.4 L709.3 185.9 L709.3 186.4 L709.3 186.9 L709.3 187.4 L709.3 187.9 L709.3 188.4 L709.3 188.9 L709.3 189.4 L709.3 189.9 L709.3 190.4 L709.3 190.9 L709.3 191.4 L709.3 191.9 L709.3 192.4 L709.3 192.9 L709.3 193.4 L709.3 193.9 L709.3 194.4 L709.3 194.9 L709.3 195.4 L709.3 195.9 L709.3 196.4 L709.3 196.9 L709.3 197.4 L709.3 197.9 L709.3 198.4 L709.3 198.9 L709.3 199.4 L709.3 199.9 L709.3 200.4 L709.3 200.9 L709.3 201.4 L709.3 201.9 L709.3 202.4 L709.3 202.9 L709.3 203.4 L709.3 203.9 L709.3 204.4 L709.3 204.9 L709.3 205.4 L709.3 205.9 L709.3 206.4 L709.3 206.9 L709.3 207.4 L709.3 207.9 L709.3 208.4 L709.3 208.9 L709.3 209.4 L709.3 209.9 L709.3 210.4 L709.3 210.9 L709.3 211.4 L709.3 211.9 L709.3 212.4" fill="none" stroke-linejoin="round" stroke="#ff4040" stroke-width="2.2" stroke-dasharray="2.2 2.87" stroke-opacity="0.9" />
<path d="M709.6 171.7 L709.6 170.7 L709.6 169.7 L709.6 168.7 L709.7 167.7 L709.7 166.7 L709.7 165.7 L709.7 164.7 L709.8 163.7 L709.8 162.7 L709.8 161.7 L709.9 160.7 L709.9 159.7 L710.0 158.7 L710.0 157.7 L710.1 156.7 L710.1 155.7 L710.2 154.7 L710.3 153.7 L710.4 152.7 L710.4 151.7 L710.5 150.7 L710.6 149.7 L710.7 148.7 L710.8 147.7 L710.9 146.7 L711.0 145.7 L711.1 144.7 L711.2 143.7 L711.3 142.7 L711.4 141.7 L711.4 140.7 L711.5 139.7 L711.6 138.7 L711.7 137.7 L711.8 136.7 L711.9 135.7 L712.0 134.7 L712.1 133.7 L712.2 132.7 L712.3 131.7 L712.4 130.7 L712.5 129.7 L712.6 128.7 L712.7 127.7 L712.8 126.7 L713.0 125.7 L713.1 124.7 L713.2 123.7 L713.4 122.7 L713.5 121.7 L713.7 120.7 L713.8 119.7 L714.0 118.7 L714.1 117.7 L714.3 116.7 L714.5 115.8 L714.7 114.8 L714.9 113.8 L715.1 112.8 L715.3 111.8 L715.5 110.8 L715.7 109.9 L716.0 108.9 L716.2 107.9 L716.5 106.9 L716.7 106.0 L717.0 105.0 L717.3 104.0 L717.6 103.1 L717.9 102.1 L718.2 101.2 L718.6 100.2 L718.9 99.3 L719.3 98.4 L719.8 97.5 L720.2 96.6 L720.6 95.6 L720.9 94.7 L721.3 93.8 L721.7 92.9 L722.1 91.9 L722.5 91.0 L722.9 90.1 L723.3 89.1 L723.6 88.2 L724.0 87.3 L724.4 86.4 L724.8 85.4 L725.2 84.5 L725.6 83.6 L726.0 82.6 L726.3 81.7 L726.7 80.8 L727.1 79.9 L727.5 78.9 L727.9 78.0 L728.3 77.1 L728.7 76.2 L729.1 75.2 L729.5 74.3 L729.9 73.4 L730.3 72.5 L730.7 71.6 L731.2 70.7 L731.6 69.8 L732.0 68.9 L732.4 68.0 L732.9 67.1 L733.3 66.2 L733.8 65.3 L734.2 64.4 L734.7 63.5 L735.2 62.6 L735.7 61.7 L736.2 60.9 L736.7 60.0" fill="none" stroke-linejoin="round" stroke="#ff4040" stroke-width="1.85" stroke-opacity="0.9" />
<path d="M514.0 163.5 L514.5 163.5 L515.0 163.5 L515.5 163.5 L516.0 163.5 L516.5 163.5 L517.0 163.5 L517.5 163.5 L518.0 163.5 L518.5 163.5 L519.0 163.5 L519.5 163.5 L520.0 163.5 L520.5 163.5 L521.0 163.5 L521.5 163.5 L522.0 163.5 L522.5 163.5 L523.0 163.5 L523.5 163.5 L524.0 163.5 L524.5 163.5 L525.0 163.5 L525.5 163.5 L526.0 163.5 L526.5 163.5 L527.0 163.5 L527.5 163.5 L528.0 163.5 L528.5 163.5 L529.0 163.5 L529.5 163.5 L530.0 163.5 L530.5 163.5 L531.0 163.5 L531.5 163.5 L532.0 163.5 L532.5 163.5 L533.0 163.5 L533.5 163.5 L534.0 163.5 L534.5 163.5 L535.0 163.5 L535.5 163.5 L536.0 163.5 L536.5 163.5 L537.0 163.5 L537.5 163.5 L538.0 163.5 L538.5 163.5 L539.0 163.5 L539.5 163.5 L540.0 163.5 L540.5 163.5 L541.0 163.5 L541.5 163.5 L542.0 163.5 L542.5 163.5 L543.0 163.5 L543.5 163.5 L544.0 163.5 L544.5 163.5 L545.0 163.5 L545.5 163.5 L546.0 163.5 L546.5 163.6 L547.0 163.6 L547.5 163.6 L548.0 163.6 L548.5 163.6 L549.0 163.6 L549.5 163.6 L550.0 163.6 L550.5 163.6 L551.0 163.6 L551.5 163.6 L552.0 163.6 L552.5 163.6 L553.0 163.6 L553.5 163.6 L554.0 163.6 L554.5 163.6 L555.0 163.6 L555.5 163.6 L556.0 163.6 L556.5 163.6 L557.0 163.6 L557.5 163.6 L558.0 163.6 L558.5 163.6 L559.0 163.6 L559.5 163.6 L560.0 163.6 L560.5 163.6 L561.0 163.6 L561.5 163.6 L562.0 163.6 L562.5 163.6 L563.0 163.6 L563.5 163.6 L564.0 163.6 L564.5 163.6 L565.0 163.6 L565.5 163.6 L566.0 163.7 L566.5 163.7 L567.0 163.7 L567.5 163.7 L568.0 163.7 L568.5 163.7 L569.0 163.7 L569.5 163.7 L570.0 163.7 L570.5 163.7 L571.0 163.7 L571.5 163.7 L572.0 163.8 L572.5 163.8 L573.0 163.8 L573.5 163.8 L574.0 163.8 L574.5 163.8 L575.0 163.8 L575.5 163.8 L576.0 163.8 L576.5 163.8 L577.0 163.9 L577.5 163.9 L578.0 163.9 L578.5 163.9 L579.0 163.9 L579.5 163.9 L580.0 163.9 L580.5 163.9 L581.0 163.9 L581.5 163.9 L582.0 164.0 L582.5 164.0 L583.0 164.0 L583.5 164.0 L584.0 164.0 L584.5 164.0 L585.0 164.0 L585.5 164.0 L586.0 164.0 L586.5 164.0 L587.0 164.0 L587.5 164.0 L588.0 164.0 L588.5 164.0 L589.0 164.1 L589.5 164.1 L590.0 164.1 L590.5 164.1 L591.0 164.1 L591.5 164.1 L592.0 164.1 L592.5 164.1 L593.0 164.1 L593.5 164.1 L594.0 164.1 L594.5 164.1 L595.0 164.1 L595.5 164.1 L596.0 164.1 L596.5 164.1 L597.0 164.2 L597.5 164.2 L598.0 164.2 L598.5 164.2 L599.0 164.2 L599.5 164.2 L600.0 164.2 L600.5 164.2 L601.0 164.2 L601.5 164.2 L602.0 164.2" fill="none" stroke-linejoin="round" stroke="#ff8080" stroke-width="2.2" stroke-dasharray="2.2 2.87" stroke-opacity="0.9" /><path d="M602.0 164.2 L602.5 164.2 L603.0 164.3 L603.5 164.3 L604.0 164.3 L604.5 164.3 L605.0 164.3 L605.5 164.3 L606.0 164.3 L606.5 164.3 L607.0 164.3 L607.5 164.4 L608.0 164.4 L608.5 164.4 L609.0 164.4 L609.5 164.4 L610.0 164.4 L610.5 164.4 L611.0 164.5 L611.5 164.5 L612.0 164.5 L612.5 164.5 L613.0 164.5 L613.5 164.6 L614.0 164.6 L614.5 164.6 L615.0 164.6 L615.5 164.7 L616.0 164.7 L616.5 164.7 L617.0 164.8 L617.5 164.8 L618.0 164.8 L618.5 164.8 L619.0 164.9 L619.5 164.9 L620.0 165.0 L620.5 165.0 L621.0 165.0 L621.5 165.1 L622.0 165.1 L622.5 165.2 L623.0 165.2 L623.5 165.3 L624.0 165.3 L624.5 165.4 L625.0 165.4 L625.5 165.5 L626.0 165.5 L626.5 165.6 L627.0 165.6 L627.5 165.7 L628.0 165.7 L628.5 165.8 L629.0 165.9 L629.5 165.9 L630.0 166.0 L630.5 166.1 L631.0 166.1 L631.4 166.2 L631.9 166.3 L632.4 166.4 L632.9 166.5 L633.4 166.6 L633.9 166.7 L634.4 166.8 L634.9 167.0 L635.4 167.1 L635.9 167.2 L636.4 167.3 L636.8 167.5 L637.3 167.6 L637.8 167.8 L638.3 167.9 L638.8 168.1 L639.2 168.2 L639.7 168.4 L640.1 168.6" fill="none" stroke-linejoin="round" stroke="#ff8080" stroke-width="2.2" stroke-dasharray="5 1" stroke-opacity="0.9" /><path d="M640.1 168.6 L640.6 168.7 L641.1 168.9 L641.5 169.1 L642.0 169.3 L642.5 169.5 L642.9 169.7 L643.4 169.9 L643.8 170.1 L644.3 170.4 L644.8 170.6 L645.2 170.8 L645.7 171.1 L646.1 171.4 L646.5 171.6 L647.0 171.9 L647.4 172.1 L647.8 172.4 L648.2 172.7 L648.6 173.0 L649.0 173.3 L649.4 173.6 L649.8 173.9 L650.2 174.2 L650.6 174.5 L650.9 174.8 L651.3 175.1 L651.7 175.4 L652.0 175.8" fill="none" stroke-linejoin="round" stroke="#ff8080" stroke-width="2.2" stroke-dasharray="3 2" stroke-opacity="0.9" /><path d="M652.0 175.8 L652.4 176.1 L652.8 176.5 L653.1 176.9 L653.5 177.2 L653.8 177.6 L654.2 178.0 L654.5 178.4 L654.8 178.8 L655.1 179.2 L655.4 179.6 L655.7 180.0 L656.0 180.4 L656.3 180.9 L656.6 181.3 L656.8 181.7 L657.1 182.1 L657.3 182.5 L657.5 183.0 L657.7 183.4 L658.0 183.8 L658.2 184.3 L658.4 184.7 L658.6 185.2 L658.8 185.7 L659.0 186.1 L659.2 186.6 L659.3 187.1 L659.5 187.5 L659.7 188.0 L659.9 188.5 L660.0 189.0 L660.2 189.5 L660.4 189.9 L660.5 190.4 L660.7 190.9 L660.8 191.4 L661.0 191.9 L661.1 192.3 L661.2 192.8 L661.4 193.3 L661.5 193.8 L661.7 194.3 L661.8 194.7 L662.0 195.2 L662.1 195.7" fill="none" stroke-linejoin="round" stroke="#ff8080" stroke-width="2.2" stroke-dasharray="2.2 2.87" stroke-opacity="0.9" /><path d="M662.1 195.7 L662.2 196.2 L662.4 196.7 L662.5 197.2 L662.6 197.7 L662.8 198.1 L662.9 198.6 L663.0 199.1 L663.1 199.6 L663.2 200.1 L663.3 200.6 L663.4 201.1 L663.5 201.6 L663.6 202.1 L663.7 202.6 L663.8 203.0 L663.8 203.5 L663.9 204.0 L664.0 204.5 L664.0 205.0 L664.0 205.5 L664.1 206.0 L664.1 206.5 L664.2 207.0 L664.2 207.5 L664.2 208.0 L664.3 208.5 L664.3 209.0 L664.4 209.5 L664.4 210.0 L664.4 210.5 L664.5 211.0 L664.5 211.4 L664.5 211.9 L664.6 212.4 L664.6 212.9 L664.6 213.4 L664.7 213.9 L664.7 214.4 L664.7 214.9 L664.8 215.4 L664.8 215.9 L664.8 216.4 L664.9 216.9 L664.9 217.4 L664.9 217.9 L664.9 218.4 L664.9 218.9 L665.0 219.4 L665.0 219.9 L665.0 220.4 L665.0 220.9 L665.1 221.4 L665.1 221.9 L665.1 222.4 L665.1 222.9 L665.1 223.4 L665.1 223.9 L665.1 224.4 L665.2 224.9 L665.2 225.5 L665.2 226.0 L665.2 226.5 L665.2 227.0 L665.2 227.5 L665.2 228.0 L665.2 228.5 L665.2 229.0 L665.2 229.5" fill="none" stroke-linejoin="round" stroke="#ff8080" stroke-width="2.2" stroke-dasharray="3 1.5" stroke-opacity="0.9" />
<path d="M665.6 229.5 L665.6 228.5 L665.6 227.5 L665.7 226.5 L665.7 225.5 L665.7 224.5 L665.8 223.5 L665.8 222.5 L665.9 221.5 L665.9 220.5 L665.9 219.4 L666.0 218.4 L666.1 217.4 L666.1 216.4 L666.2 215.4 L666.2 214.4 L666.3 213.4 L666.3 212.4 L666.4 211.4 L666.5 210.4 L666.5 209.4 L666.6 208.4 L666.7 207.4 L666.8 206.4 L666.8 205.4 L666.9 204.4 L667.0 203.4 L667.1 202.4 L667.2 201.4 L667.3 200.4 L667.4 199.4 L667.6 198.4 L667.7 197.4 L667.8 196.4 L667.9 195.4 L668.1 194.4 L668.2 193.4 L668.4 192.4 L668.6 191.5 L668.8 190.5 L669.0 189.5 L669.2 188.5 L669.4 187.5 L669.7 186.5 L669.9 185.6 L670.2 184.6 L670.4 183.6 L670.7 182.6 L671.0 181.7 L671.2 180.7 L671.5 179.7 L671.8 178.8 L672.1 177.8 L672.3 176.8 L672.6 175.9 L672.9 174.9 L673.2 173.9 L673.5 173.0 L673.8 172.0 L674.2 171.1 L674.5 170.1 L674.8 169.2 L675.2 168.2 L675.5 167.3 L675.9 166.3 L676.3 165.4 L676.6 164.4 L677.0 163.5 L677.4 162.6 L677.8 161.7 L678.2 160.8 L678.6 159.9 L679.1 159.0 L679.5 158.1 L680.0 157.2 L680.5 156.4 L681.0 155.5 L681.5 154.6 L682.0 153.8 L682.5 152.9 L683.1 152.1 L683.6 151.2 L684.2 150.4 L684.7 149.5 L685.3 148.7 L685.8 147.8 L686.4 147.0 L686.9 146.1 L687.5 145.3 L688.0 144.4 L688.6 143.6 L689.1 142.7 L689.6 141.8 L690.1 141.0 L690.6 140.1 L691.1 139.2 L691.6 138.3 L692.1 137.5 L692.6 136.6 L693.1 135.7 L693.6 134.9 L694.1 134.0 L694.6 133.1 L695.1 132.2 L695.6 131.4 L696.1 130.5 L696.6 129.6 L697.1 128.7 L697.6 127.9 L698.1 127.0 L698.6 126.1 L699.1 125.2 L699.6 124.4 L700.1 123.5 L700.6 122.6 L701.1 121.8 L701.6 120.9 L702.1 120.0 L702.6 119.2 L703.1 118.3 L703.6 117.4 L704.1 116.6 L704.6 115.7 L705.2 114.8 L705.7 114.0 L706.2 113.1 L706.7 112.2 L707.2 111.3 L707.7 110.5 L708.2 109.6 L708.7 108.7 L709.2 107.9 L709.7 107.0 L710.2 106.1 L710.7 105.3 L711.2 104.4 L711.7 103.5 L712.2 102.6 L712.7 101.8 L713.2 100.9 L713.7 100.0 L714.2 99.2 L714.7 98.3 L715.2 97.4 L715.7 96.5 L716.2 95.7 L716.7 94.8 L717.2 93.9 L717.7 93.1 L718.2 92.2 L718.7 91.3 L719.2 90.5 L719.7 89.6 L720.2 88.7 L720.7 87.8 L721.2 87.0 L721.7 86.1 L722.2 85.2 L722.7 84.4 L723.2 83.5 L723.7 82.6 L724.2 81.7 L724.8 80.9 L725.3 80.0 L725.8 79.1 L726.3 78.3 L726.8 77.4 L727.3 76.5 L727.8 75.6 L728.3 74.8 L728.8 73.9 L729.3 73.0 L729.8 72.2 L730.3 71.3 L730.8 70.4 L731.3 69.6 L731.8 68.7 L732.3 67.8 L732.8 66.9 L733.3 66.1 L733.8 65.2" fill="none" stroke-linejoin="round" stroke="#ff8080" stroke-width="1.85" stroke-opacity="0.9" />
<path d="M570.5 229.5 L571.4 229.1 L572.3 228.6 L573.2 228.2 L574.1 227.7 L575.0 227.3 L575.9 226.9 L576.8 226.4 L577.7 226.0 L578.6 225.5 L579.5 225.0 L580.3 224.5 L581.2 224.0 L582.0 223.4 L582.8 222.9 L583.7 222.3 L584.5 221.7 L585.3 221.1 L586.1 220.5 L586.9 219.9 L587.7 219.2 L588.4 218.6 L589.2 217.9 L590.0 217.3 L590.7 216.6 L591.5 216.0 L592.2 215.3 L593.0 214.6 L593.7 213.9 L594.4 213.2 L595.1 212.5 L595.8 211.8 L596.6 211.1 L597.3 210.4 L597.9 209.7 L598.6 208.9 L599.3 208.2 L600.0 207.5 L600.7 206.7 L601.3 206.0 L602.0 205.2 L602.6 204.5 L603.3 203.7 L603.9 202.9 L604.5 202.1 L605.2 201.3 L605.8 200.6 L606.4 199.8 L607.0 199.0 L607.6 198.2 L608.2 197.4 L608.8 196.6 L609.4 195.8 L610.0 195.0 L610.6 194.2 L611.2 193.3 L611.8 192.5 L612.4 191.7 L613.0 190.9 L613.6 190.1 L614.2 189.3 L614.8 188.5 L615.4 187.7 L616.0 186.9 L616.5 186.0 L617.1 185.2 L617.7 184.4 L618.2 183.5 L618.8 182.7 L619.3 181.8 L619.8 181.0 L620.3 180.1 L620.8 179.3 L621.3 178.4 L621.8 177.5 L622.3 176.7 L622.8 175.8 L623.3 174.9 L623.7 174.0 L624.2 173.1 L624.7 172.2 L625.1 171.3 L625.6 170.5 L626.1 169.6 L626.6 168.7 L627.0 167.8 L627.5 166.9 L628.0 166.0 L628.5 165.1 L628.9 164.2 L629.4 163.3 L629.8 162.4 L630.2 161.5 L630.6 160.6 L631.0 159.7 L631.4 158.8 L631.7 157.8 L632.1 156.9 L632.4 155.9 L632.7 155.0 L633.0 154.0 L633.3 153.1 L633.5 152.1 L633.8 151.1 L634.0 150.1 L634.2 149.1 L634.4 148.1 L634.5 147.2 L634.5 146.2 L634.6 145.2 L634.6 144.2 L634.6 143.2 L634.7 142.2 L634.7 141.2 L634.7 140.2 L634.7 139.2 L634.7 138.2 L634.8 137.2 L634.8 136.1 L634.8 135.1 L634.8 134.1 L634.8 133.1 L634.8 132.1 L634.8 131.1 L634.8 130.1 L634.8 129.1 L634.8 128.1 L634.8 127.1 L634.8 126.1 L634.8 125.1 L634.8 124.1 L634.8 123.1 L634.8 122.1 L634.8 121.1 L634.8 120.1 L634.8 119.1 L634.8 118.1 L634.8 117.1 L634.8 116.1 L634.8 115.1 L634.8 114.1 L634.8 113.1 L634.8 112.1 L634.8 111.1 L634.8 110.1 L634.8 109.1 L634.8 108.1 L634.8 107.1 L634.8 106.1 L634.8 105.0 L634.8 104.0 L634.8 103.0 L634.8 102.0 L634.8 101.0 L634.8 100.0 L634.8 99.0 L634.8 98.0 L634.8 97.0 L634.8 96.0 L634.8 95.0 L634.8 94.0 L634.8 93.0 L634.8 92.0 L634.8 91.0 L634.8 90.0 L634.8 89.0 L634.8 88.0" fill="none" stroke-linejoin="round" stroke="#ffbfbf" stroke-width="1.85" stroke-opacity="0.9" />
<path d="M712.5 63.0 L712.8 64.0 L713.1 64.9 L713.4 65.9 L713.6 66.9 L713.8 67.8 L714.0 68.8 L714.1 69.8 L714.3 70.8 L714.4 71.8 L714.6 72.8 L714.7 73.8 L714.9 74.8 L715.0 75.8 L715.2 76.8 L715.3 77.8 L715.4 78.8 L715.6 79.8 L715.7 80.8 L715.8 81.8 L716.0 82.8 L716.1 83.8 L716.3 84.9 L716.4 86.1 L716.6 87.3 L716.9 87.7 L717.7 87.1 L718.4 86.4 L719.1 85.6 L719.8 84.8 L720.4 84.1 L721.0 83.3 L721.6 82.5 L722.2 81.6 L722.8 80.8 L723.4 80.0 L723.9 79.2 L724.5 78.3 L725.1 77.5 L725.7 76.7 L726.3 75.9 L726.9 75.1 L727.4 74.3 L728.0 73.4 L728.6 72.6 L729.2 71.8 L729.8 71.0 L730.3 70.2 L730.9 69.3 L731.5 68.5 L732.1 67.7 L732.7 66.9 L733.2 66.0 L733.8 65.2" fill="none" stroke-linejoin="round" stroke="#ffbfbf" stroke-width="1.85" stroke-opacity="0.9" />
<path d="M731.2 39.5 L731.3 50.0 L731.8 60.0" fill="none" stroke-linejoin="round" stroke="#ffbfbf" stroke-width="1.85" stroke-opacity="0.9" />
<path d="M514.0 152.0 L515.0 152.0 L516.0 152.0 L517.0 152.0 L518.0 152.0 L519.0 152.0 L520.0 152.0 L521.0 152.0 L522.0 152.0 L523.0 152.0 L524.0 152.0 L525.0 152.0 L526.0 152.0 L527.0 152.0 L528.0 152.0 L529.0 152.0 L530.0 152.0 L531.0 152.0 L532.0 152.0 L533.0 152.0 L534.0 152.0 L535.0 152.0 L536.0 152.0 L537.0 152.0 L538.0 152.0 L539.0 152.0 L540.0 152.0 L541.0 152.0 L542.0 152.0 L543.0 152.0 L544.0 152.0 L545.0 152.0 L546.0 152.0 L547.0 152.0 L548.0 152.0 L549.0 152.0 L550.0 152.0 L551.0 152.0 L552.0 152.0 L553.0 152.0 L554.0 152.0 L555.0 152.0 L556.0 152.0 L557.0 152.0 L558.0 152.0 L559.0 152.0 L560.0 152.0 L561.0 152.0 L562.0 152.0 L563.0 152.0 L564.0 152.0 L565.0 152.0 L566.0 152.0 L567.0 152.0 L568.0 151.9 L569.0 151.9 L570.0 151.9 L571.0 151.9 L572.0 151.9 L573.0 151.9 L574.0 151.8 L575.0 151.8 L576.0 151.8 L577.0 151.8 L578.0 151.8 L579.0 151.7 L580.0 151.7 L581.0 151.7 L582.0 151.6 L583.0 151.6 L584.0 151.5 L585.0 151.4 L586.0 151.3 L587.0 151.3 L588.0 151.2 L589.0 151.0 L590.0 150.9 L591.0 150.8 L592.0 150.7 L593.0 150.6 L594.0 150.4 L595.0 150.3 L596.0 150.2 L597.0 150.0 L598.0 149.8 L599.0 149.7 L600.0 149.4 L601.0 149.2 L602.0 149.0 L602.9 148.7 L603.9 148.4 L604.8 148.1 L605.6 147.7 L606.5 147.2 L607.4 146.6 L608.2 146.0 L609.0 145.2 L609.6 144.5 L610.2 143.8 L610.6 142.9 L611.1 142.0 L611.5 141.1 L611.9 140.1 L612.2 139.1 L612.5 138.2 L612.7 137.2 L612.9 136.2 L613.1 135.3 L613.3 134.3 L613.5 133.3 L613.7 132.3 L613.8 131.3 L614.0 130.3 L614.1 129.3 L614.2 128.3 L614.3 127.3 L614.4 126.3 L614.5 125.3 L614.6 124.3 L614.6 123.3 L614.7 122.3 L614.8 121.3 L615.0 120.3 L615.1 119.4 L615.2 118.4 L615.4 117.4 L615.6 116.4 L615.7 115.4 L615.9 114.4 L616.1 113.4 L616.4 112.4 L616.6 111.5 L616.9 110.5 L617.1 109.6 L617.4 108.6 L617.8 107.7 L618.2 106.7 L618.6 105.8 L619.0 104.9 L619.5 104.1 L620.1 103.2 L620.7 102.4 L621.3 101.6 L621.9 100.8 L622.5 100.1 L623.2 99.3 L623.8 98.5 L624.4 97.7 L625.1 97.0 L625.8 96.2 L626.4 95.5 L627.1 94.8 L627.8 94.0 L628.5 93.3 L629.2 92.6 L629.8 91.8 L630.5 91.1 L631.2 90.4 L631.9 89.6 L632.6 88.9 L633.2 88.1 L633.9 87.4 L634.5 86.6 L635.2 85.8 L635.8 85.0 L636.5 84.3 L637.2 83.5 L637.9 82.8 L638.6 82.1 L639.3 81.4 L640.0 80.8 L640.8 80.2 L641.6 79.6 L642.4 78.9 L643.2 78.4 L644.0 77.8 L644.8 77.2 L645.7 76.7 L646.6 76.2 L647.4 75.6 L648.3 75.2 L649.2 74.7 L650.1 74.3 L651.0 73.8 L651.9 73.4 L652.8 73.0 L653.7 72.7 L654.7 72.3 L655.6 71.9 L656.6 71.6 L657.5 71.3 L658.5 71.0 L659.4 70.7 L660.4 70.4 L661.3 70.1 L662.3 69.8 L663.3 69.6 L664.3 69.4 L665.2 69.1 L666.2 68.9 L667.2 68.7 L668.2 68.4 L669.1 68.2 L670.1 68.0 L671.1 67.7 L672.0 67.5 L673.0 67.2 L674.0 67.0 L675.0 66.7 L675.9 66.5 L676.9 66.3 L677.9 66.0 L678.9 65.8 L679.8 65.6 L680.8 65.5 L681.8 65.3 L682.8 65.1 L683.8 65.0 L684.8 64.8 L685.8 64.7 L686.7 64.5 L687.7 64.4 L688.7 64.3 L689.7 64.1 L690.7 64.0 L691.7 63.9 L692.7 63.8 L693.7 63.6 L694.7 63.5 L695.7 63.4 L696.7 63.3 L697.7 63.2 L698.7 63.1 L699.7 63.0 L700.7 62.9 L701.7 62.8 L702.7 62.8 L703.7 62.7 L704.7 62.6 L705.7 62.5 L706.7 62.4 L707.7 62.4 L708.6 62.3 L709.6 62.3 L710.7 62.3 L711.8 62.3 L712.8 62.3 L713.7 62.4 L714.5 62.6 L715.1 63.2 L715.6 64.1 L716.1 65.2 L716.6 66.2 L717.3 67.0 L717.9 68.0 L718.6 68.9 L719.2 69.8 L719.9 70.5 L720.7 71.0 L721.4 70.9 L722.2 70.4 L723.0 69.6 L723.8 68.8 L724.6 68.3 L725.5 67.8 L726.4 67.3 L727.3 66.9 L728.1 66.3 L729.1 65.8 L730.1 65.3 L730.8 64.7 L731.1 63.9 L731.3 63.1 L731.5 62.1 L731.6 61.1 L731.7 60.0 L731.8 58.9 L731.9 57.9 L732.1 56.9 L732.2 55.7 L732.4 54.4 L732.6 53.1 L732.8 52.0 L733.0 51.1 L733.2 50.6 L733.4 50.6 L733.6 51.2 L733.8 52.1 L734.0 53.4 L734.2 54.7 L734.4 55.9 L734.6 56.9 L734.7 58.0 L734.8 59.1 L734.9 60.3 L735.1 61.3 L735.3 62.1 L735.7 62.6 L736.7 63.0" fill="none" stroke-linejoin="round" stroke="#bfbfff" stroke-width="1.85" stroke-opacity="0.9" />
<path d="M514.0 145.3 L515.0 145.3 L516.0 145.3 L517.0 145.3 L518.0 145.3 L519.0 145.3 L520.0 145.3 L521.0 145.3 L522.0 145.3 L523.0 145.3 L524.0 145.3 L525.0 145.3 L526.0 145.3 L527.0 145.3 L528.0 145.3 L529.0 145.2 L530.0 145.2 L531.0 145.2 L532.0 145.2 L533.0 145.2 L534.0 145.2 L535.0 145.2 L536.0 145.2 L537.0 145.2 L538.0 145.1 L539.0 145.1 L540.0 145.1 L541.0 145.0 L542.0 145.0 L543.0 144.9 L544.0 144.9 L545.0 144.8 L546.0 144.8 L547.0 144.7 L548.0 144.7 L549.0 144.6 L550.0 144.5 L551.0 144.5 L552.0 144.4 L553.0 144.3 L554.0 144.2 L555.0 144.1 L556.0 144.0 L557.0 143.9 L558.0 143.8 L559.0 143.7 L560.0 143.6 L561.0 143.4 L562.0 143.3 L563.0 143.2 L564.0 143.1 L565.0 143.0 L566.0 142.8 L567.0 142.7 L568.0 142.6 L569.0 142.4 L569.9 142.2 L570.9 142.0 L571.9 141.7 L572.9 141.5 L573.8 141.1 L574.8 140.8 L575.7 140.4 L576.6 140.0 L577.5 139.6 L578.3 139.1 L579.2 138.6 L580.0 138.0 L580.9 137.4 L581.7 136.9 L582.5 136.3 L583.4 135.7 L584.2 135.2 L585.1 134.6 L585.9 134.1 L586.7 133.6 L587.6 133.0 L588.4 132.5 L589.3 131.9 L590.1 131.4 L591.0 130.9 L591.8 130.3 L592.6 129.8 L593.5 129.2 L594.3 128.7 L595.2 128.1 L596.0 127.6 L596.9 127.1 L597.7 126.6 L598.6 126.0 L599.4 125.4 L600.2 124.9 L601.0 124.2 L601.7 123.6 L602.5 122.9 L603.2 122.3 L604.0 121.6 L604.7 120.9 L605.4 120.1 L606.1 119.4 L606.8 118.7 L607.5 117.9 L608.1 117.2 L608.8 116.4 L609.4 115.7 L610.1 114.9 L610.7 114.1 L611.3 113.3 L611.9 112.5 L612.4 111.7 L613.0 110.8 L613.5 110.0 L614.1 109.1 L614.6 108.3 L615.2 107.4 L615.7 106.6 L616.3 105.8 L617.0 105.0 L617.6 104.3 L618.3 103.6 L619.0 102.9 L619.7 102.2 L620.5 101.5 L621.2 100.8 L621.9 100.1 L622.6 99.4 L623.3 98.6 L624.0 97.9 L624.7 97.2 L625.4 96.5 L626.1 95.8 L626.8 95.0 L627.5 94.3 L628.2 93.6 L628.9 92.9 L629.5 92.1 L630.2 91.4 L630.9 90.7 L631.6 89.9 L632.3 89.2 L633.0 88.5 L633.6 87.7 L634.3 86.9 L634.9 86.1 L635.6 85.4 L636.2 84.6 L636.9 83.9 L637.6 83.1 L638.3 82.4 L639.0 81.7 L639.7 81.0 L640.5 80.4 L641.2 79.8 L642.0 79.2 L642.8 78.6 L643.7 78.0 L644.5 77.4 L645.4 76.9 L646.2 76.4 L647.1 75.8 L648.0 75.3 L648.9 74.9 L649.7 74.4 L650.6 74.0 L651.5 73.6 L652.4 73.2 L653.4 72.8 L654.3 72.4 L655.3 72.1 L656.2 71.7 L657.2 71.4 L658.1 71.1 L659.1 70.8 L660.0 70.5 L661.0 70.2 L661.9 69.9 L662.9 69.7 L663.9 69.4 L664.9 69.2 L665.8 69.0 L666.8 68.8 L667.8 68.5 L668.8 68.3 L669.7 68.1 L670.7 67.8 L671.7 67.6 L672.7 67.3 L673.6 67.1 L674.6 66.8 L675.6 66.6 L676.5 66.3 L677.5 66.1 L678.5 65.9 L679.5 65.7 L680.5 65.5 L681.4 65.3 L682.4 65.2 L683.4 65.0 L684.4 64.9 L685.4 64.7 L686.4 64.6 L687.4 64.4 L688.4 64.3 L689.4 64.2 L690.4 64.1 L691.4 63.9 L692.4 63.8 L693.4 63.7 L694.4 63.6 L695.3 63.5 L696.3 63.4 L697.3 63.2 L698.3 63.2 L699.3 63.1 L700.3 63.0 L701.3 62.9 L702.3 62.8 L703.3 62.7 L704.3 62.6 L705.3 62.5 L706.3 62.4 L707.3 62.4 L708.3 62.3 L709.3 62.3 L710.3 62.3 L711.4 62.3 L712.4 62.3 L713.4 62.4 L714.3 62.5 L715.0 63.0 L715.6 63.8 L716.2 64.8 L716.9 65.7 L717.6 66.4 L718.3 67.2 L719.1 68.0 L719.9 68.6 L720.7 69.0 L721.6 68.9 L722.4 68.3 L723.3 67.6 L724.2 67.2 L725.2 66.9 L726.2 66.7 L727.2 66.5 L728.1 66.2 L729.1 65.7 L730.1 65.2 L730.8 64.6 L731.2 63.9 L731.4 63.0 L731.5 62.0 L731.7 61.0 L731.8 59.9 L731.9 58.8 L732.1 57.8 L732.4 56.5 L732.6 55.2 L732.8 54.1 L733.1 53.3 L733.3 53.0 L733.6 53.4 L733.8 54.3 L734.1 55.6 L734.4 56.8 L734.6 57.9 L734.7 59.0 L734.9 60.1 L735.0 61.2 L735.3 62.1 L735.7 62.6 L736.7 63.0" fill="none" stroke-linejoin="round" stroke="#8080ff" stroke-width="1.85" stroke-opacity="0.9" />
<path d="M514.0 121.1 L515.0 121.1 L516.0 121.1 L517.0 121.1 L518.0 121.1 L519.0 121.1 L520.0 121.1 L521.0 121.1 L522.0 121.1 L523.0 121.1 L524.0 121.1 L525.0 121.1 L526.0 121.1 L527.0 121.1 L528.0 121.1 L529.0 121.1 L530.0 121.1 L531.0 121.1 L532.0 121.1 L533.0 121.1 L534.0 121.1 L535.0 121.1 L536.0 121.1 L537.0 121.1 L538.0 121.1 L539.0 121.1 L540.0 121.1 L541.0 121.1 L542.0 121.1 L543.0 121.1 L544.0 121.1 L545.0 121.1 L546.0 121.1 L547.0 121.1 L548.0 121.0 L549.0 121.0 L550.0 121.0 L551.0 121.0 L552.0 121.0 L553.0 121.0 L554.0 121.0 L555.0 121.0 L556.0 121.0 L557.0 121.0 L558.0 121.0 L559.0 121.0 L560.0 121.0 L561.0 121.0 L562.0 121.0 L563.0 121.0 L564.0 120.9 L565.0 120.9 L566.0 120.8 L567.0 120.8 L568.0 120.7 L569.0 120.7 L570.0 120.6 L571.0 120.6 L572.0 120.5 L573.0 120.4 L574.0 120.3 L575.0 120.3 L576.0 120.2 L577.0 120.1 L578.0 120.0 L579.0 119.9 L580.0 119.8 L581.0 119.7 L582.0 119.6 L582.9 119.4 L583.9 119.3 L584.9 119.1 L585.9 118.9 L586.9 118.7 L587.9 118.5 L588.8 118.3 L589.8 118.0 L590.8 117.8 L591.8 117.6 L592.7 117.3 L593.7 117.1 L594.7 116.8 L595.6 116.5 L596.6 116.2 L597.6 115.9 L598.5 115.6 L599.4 115.2 L600.3 114.9 L601.2 114.5 L602.1 114.1 L603.0 113.6 L603.9 113.1 L604.8 112.6 L605.7 112.1 L606.5 111.6 L607.4 111.1 L608.3 110.6 L609.1 110.0 L610.0 109.5 L610.8 109.0 L611.7 108.5 L612.5 107.9 L613.3 107.4 L614.2 106.8 L615.0 106.2 L615.8 105.7 L616.6 105.1 L617.4 104.5 L618.2 103.8 L619.0 103.2 L619.7 102.6 L620.5 101.9 L621.2 101.2 L621.9 100.5 L622.7 99.8 L623.4 99.1 L624.1 98.4 L624.8 97.7 L625.5 97.0 L626.2 96.3 L626.8 95.5 L627.5 94.8 L628.1 94.0 L628.8 93.2 L629.4 92.5 L630.1 91.7 L630.7 91.0 L631.4 90.2 L632.0 89.4 L632.7 88.7 L633.4 87.9 L634.0 87.2 L634.7 86.4 L635.3 85.6 L636.0 84.9 L636.7 84.1 L637.3 83.4 L638.0 82.6 L638.7 81.9 L639.4 81.3 L640.2 80.6 L641.0 80.0 L641.7 79.4 L642.5 78.8 L643.4 78.2 L644.2 77.7 L645.0 77.1 L645.9 76.6 L646.8 76.0 L647.6 75.5 L648.5 75.0 L649.4 74.6 L650.3 74.2 L651.2 73.7 L652.1 73.3 L653.0 73.0 L654.0 72.6 L654.9 72.2 L655.8 71.9 L656.8 71.5 L657.7 71.2 L658.7 70.9 L659.7 70.6 L660.6 70.3 L661.6 70.1 L662.5 69.8 L663.5 69.5 L664.5 69.3 L665.4 69.1 L666.4 68.8 L667.4 68.6 L668.4 68.4 L669.3 68.2 L670.3 67.9 L671.3 67.7 L672.3 67.4 L673.2 67.2 L674.2 66.9 L675.2 66.7 L676.1 66.4 L677.1 66.2 L678.1 66.0 L679.1 65.8 L680.0 65.6 L681.0 65.4 L682.0 65.2 L683.0 65.1 L684.0 64.9 L685.0 64.8 L686.0 64.6 L687.0 64.5 L687.9 64.4 L688.9 64.2 L689.9 64.1 L690.9 64.0 L691.9 63.9 L692.9 63.7 L693.9 63.6 L694.9 63.5 L695.9 63.4 L696.9 63.3 L697.9 63.2 L698.9 63.1 L699.9 63.0 L700.9 62.9 L701.9 62.8 L702.9 62.7 L703.9 62.6 L704.9 62.6 L705.9 62.5 L706.9 62.4 L707.9 62.4 L708.9 62.3 L709.9 62.3 L710.9 62.3 L711.9 62.3 L712.9 62.4 L713.9 62.4 L714.7 62.7 L715.4 63.3 L716.2 64.2 L716.9 64.9 L717.8 65.5 L718.7 66.1 L719.6 66.6 L720.5 66.9 L721.4 66.9 L722.3 66.5 L723.3 66.0 L724.2 65.9 L725.2 65.9 L726.2 65.9 L727.2 65.9 L728.2 65.9 L729.2 65.7 L730.2 65.1 L730.9 64.4 L731.3 63.7 L731.5 62.8 L731.7 61.7 L731.9 60.6 L732.1 59.6 L732.4 58.4 L732.7 57.2 L733.0 56.3 L733.4 56.0 L733.7 56.6 L734.1 57.8 L734.5 58.9 L734.7 60.0 L735.0 61.1 L735.2 62.0 L735.7 62.6 L736.7 63.0" fill="none" stroke-linejoin="round" stroke="#4040ff" stroke-width="1.85" stroke-opacity="0.9" />
<path d="M514.0 115.6 L515.0 115.6 L516.0 115.6 L517.0 115.6 L518.0 115.6 L519.0 115.6 L520.0 115.6 L521.0 115.6 L522.0 115.6 L523.0 115.6 L524.0 115.6 L525.0 115.6 L526.0 115.6 L527.0 115.6 L528.0 115.6 L529.0 115.6 L530.0 115.6 L531.0 115.6 L532.0 115.6 L533.0 115.6 L534.0 115.6 L535.0 115.6 L536.0 115.6 L537.0 115.6 L538.0 115.6 L539.0 115.6 L540.0 115.6 L541.0 115.6 L542.0 115.6 L543.1 115.6 L544.1 115.6 L545.1 115.6 L546.1 115.6 L547.1 115.6 L548.1 115.5 L549.1 115.5 L550.1 115.5 L551.1 115.5 L552.1 115.5 L553.1 115.5 L554.1 115.5 L555.1 115.5 L556.1 115.5 L557.1 115.5 L558.1 115.5 L559.1 115.5 L560.1 115.5 L561.1 115.5 L562.1 115.5 L563.1 115.5 L564.1 115.5 L565.1 115.4 L566.1 115.4 L567.1 115.4 L568.1 115.4 L569.1 115.3 L570.1 115.3 L571.1 115.2 L572.1 115.2 L573.1 115.2 L574.1 115.1 L575.1 115.1 L576.1 115.0 L577.1 115.0 L578.1 114.9 L579.1 114.9 L580.1 114.8 L581.1 114.7 L582.1 114.6 L583.1 114.5 L584.1 114.4 L585.1 114.3 L586.1 114.1 L587.1 114.0 L588.0 113.8 L589.0 113.7 L590.0 113.5 L591.0 113.3 L592.0 113.2 L593.0 113.0 L594.0 112.8 L595.0 112.6 L596.0 112.4 L596.9 112.2 L597.9 112.0 L598.9 111.8 L599.9 111.5 L600.8 111.3 L601.8 111.0 L602.7 110.7 L603.7 110.3 L604.6 109.9 L605.5 109.6 L606.5 109.2 L607.4 108.8 L608.3 108.3 L609.2 107.9 L610.1 107.5 L611.0 107.0 L611.8 106.5 L612.7 106.0 L613.6 105.5 L614.4 104.9 L615.2 104.4 L616.1 103.8 L616.9 103.3 L617.7 102.7 L618.5 102.1 L619.4 101.5 L620.2 100.9 L621.0 100.3 L621.8 99.7 L622.6 99.1 L623.3 98.5 L624.1 97.8 L624.8 97.1 L625.6 96.5 L626.3 95.8 L627.0 95.1 L627.7 94.3 L628.3 93.6 L629.0 92.8 L629.7 92.1 L630.3 91.3 L631.0 90.6 L631.7 89.8 L632.4 89.1 L633.0 88.3 L633.7 87.6 L634.4 86.8 L635.0 86.0 L635.7 85.3 L636.3 84.5 L637.0 83.8 L637.7 83.0 L638.4 82.3 L639.1 81.6 L639.8 81.0 L640.6 80.3 L641.3 79.7 L642.1 79.1 L642.9 78.5 L643.8 77.9 L644.6 77.4 L645.5 76.8 L646.3 76.3 L647.2 75.8 L648.1 75.3 L649.0 74.8 L649.9 74.4 L650.7 73.9 L651.6 73.5 L652.6 73.1 L653.5 72.8 L654.4 72.4 L655.4 72.0 L656.3 71.7 L657.3 71.4 L658.2 71.1 L659.2 70.7 L660.1 70.5 L661.1 70.2 L662.1 69.9 L663.0 69.7 L664.0 69.4 L665.0 69.2 L666.0 69.0 L666.9 68.7 L667.9 68.5 L668.9 68.3 L669.9 68.0 L670.8 67.8 L671.8 67.5 L672.8 67.3 L673.8 67.0 L674.7 66.8 L675.7 66.6 L676.7 66.3 L677.6 66.1 L678.6 65.9 L679.6 65.7 L680.6 65.5 L681.6 65.3 L682.6 65.2 L683.5 65.0 L684.5 64.8 L685.5 64.7 L686.5 64.6 L687.5 64.4 L688.5 64.3 L689.5 64.2 L690.5 64.0 L691.5 63.9 L692.5 63.8 L693.5 63.7 L694.5 63.6 L695.5 63.4 L696.5 63.3 L697.5 63.2 L698.5 63.1 L699.5 63.0 L700.5 63.0 L701.4 62.9 L702.4 62.8 L703.4 62.7 L704.4 62.6 L705.4 62.5 L706.4 62.4 L707.4 62.4 L708.4 62.3 L709.4 62.3 L710.4 62.3 L711.5 62.3 L712.5 62.3 L713.5 62.4 L714.4 62.5 L715.3 63.0 L716.1 63.6 L716.9 64.2 L717.9 64.6 L718.8 65.0 L719.8 65.3 L720.8 65.5 L721.7 65.4 L722.7 65.1 L723.7 64.8 L724.7 64.9 L725.6 65.2 L726.6 65.5 L727.6 65.7 L728.6 65.7 L729.6 65.3 L730.5 64.8 L731.1 64.1 L731.5 63.3 L731.7 62.2 L732.1 61.2 L732.5 60.1 L733.0 59.2 L733.6 59.1 L734.2 60.1 L734.7 61.0 L735.1 62.0 L735.7 62.6 L736.7 63.0" fill="none" stroke-linejoin="round" stroke="#0d0dff" stroke-width="1.85" stroke-opacity="0.9" />
<path d="M514.0 163.5 L515.0 163.5 L516.0 163.5 L517.0 163.5 L518.0 163.5 L519.0 163.5 L520.0 163.5 L521.0 163.5 L522.0 163.5 L523.0 163.5 L524.0 163.5 L525.0 163.5 L526.0 163.5 L527.0 163.5 L528.0 163.5 L529.0 163.5 L530.0 163.5 L531.0 163.5 L532.0 163.5 L533.0 163.5 L534.0 163.5 L535.0 163.5 L536.0 163.5 L537.0 163.5 L538.0 163.5 L539.0 163.5 L540.0 163.5 L541.0 163.5 L542.0 163.5 L543.0 163.5 L544.0 163.5 L545.0 163.5 L546.0 163.5 L547.0 163.5 L548.0 163.5 L549.0 163.5 L550.0 163.5 L551.0 163.5 L552.0 163.5 L553.0 163.5 L554.0 163.5 L555.0 163.5 L556.0 163.5 L557.0 163.5 L558.0 163.5 L559.0 163.5 L560.0 163.5 L561.0 163.5 L562.0 163.5 L563.0 163.5 L564.0 163.5 L565.0 163.5 L566.0 163.5 L567.0 163.5 L568.0 163.5 L569.0 163.5 L570.0 163.5 L571.0 163.5 L572.1 163.5 L573.1 163.5 L574.1 163.5 L575.1 163.4 L576.1 163.4 L577.1 163.4 L578.1 163.4 L579.1 163.3 L580.1 163.3 L581.1 163.3 L582.1 163.2 L583.1 163.2 L584.1 163.1 L585.1 163.1 L586.1 163.0 L587.1 163.0 L588.1 162.9 L589.0 162.8 L590.0 162.7 L591.0 162.6 L592.0 162.5 L593.0 162.3 L594.0 162.2 L595.0 162.1 L596.0 161.9 L597.0 161.8 L598.0 161.6 L599.0 161.4 L599.9 161.2 L600.9 161.0 L601.9 160.8 L602.9 160.6 L603.8 160.3 L604.8 160.1 L605.8 159.8 L606.7 159.5 L607.7 159.2 L608.7 158.9 L609.6 158.5 L610.5 158.2 L611.4 157.8 L612.4 157.3 L613.2 156.9 L614.1 156.4 L615.0 155.9 L615.8 155.3 L616.7 154.7 L617.4 154.0 L617.9 153.2 L618.4 152.3 L618.8 151.4 L619.0 150.4 L619.1 149.4 L619.2 148.4 L619.3 147.4 L619.4 146.4 L619.5 145.4 L619.5 144.4 L619.6 143.4 L619.7 142.4 L619.7 141.4 L619.8 140.4 L619.8 139.4 L619.8 138.4 L619.9 137.4 L619.9 136.4 L619.9 135.4 L619.9 134.4 L620.0 133.4 L620.0 132.4 L620.0 131.4 L620.0 130.4 L620.0 129.4 L620.0 128.4 L620.0 127.4 L620.1 126.4 L620.1 125.4 L620.1 124.4 L620.1 123.4 L620.1 122.4 L620.2 121.4 L620.2 120.4 L620.2 119.4 L620.3 118.4 L620.3 117.4 L620.3 116.4 L620.4 115.4 L620.4 114.4 L620.5 113.4 L620.6 112.4 L620.7 111.4 L620.8 110.4 L620.9 109.4 L621.1 108.4 L621.3 107.4 L621.6 106.5 L621.8 105.5 L622.1 104.6 L622.5 103.7 L622.9 102.8 L623.4 101.9 L624.0 101.0 L624.5 100.2 L625.1 99.3 L625.7 98.5 L626.2 97.7 L626.8 96.8 L627.3 96.0 L627.9 95.2 L628.5 94.4 L629.1 93.6 L629.7 92.8 L630.4 92.0 L631.0 91.2 L631.6 90.5 L632.3 89.7 L632.9 88.9 L633.5 88.1 L634.1 87.3 L634.8 86.5 L635.4 85.8 L636.1 85.0 L636.7 84.2 L637.4 83.5 L638.1 82.8 L638.8 82.1 L639.5 81.4 L640.3 80.8 L641.0 80.1 L641.8 79.5 L642.6 78.9 L643.4 78.3 L644.3 77.8 L645.1 77.2 L646.0 76.7 L646.9 76.1 L647.7 75.6 L648.6 75.2 L649.5 74.7 L650.4 74.3 L651.3 73.9 L652.2 73.6 L653.2 73.2 L654.1 72.9 L655.1 72.5 L656.0 72.2 L657.0 71.9 L658.0 71.6 L658.9 71.3 L659.9 71.0 L660.8 70.8 L661.8 70.5 L662.8 70.2 L663.7 70.0 L664.7 69.7 L665.7 69.5 L666.7 69.3 L667.6 69.0 L668.6 68.8 L669.6 68.6 L670.6 68.4 L671.5 68.2 L672.5 68.0 L673.5 67.7 L674.5 67.5 L675.5 67.3 L676.4 67.2 L677.4 67.0 L678.4 66.8 L679.4 66.6 L680.4 66.4 L681.4 66.3 L682.4 66.1 L683.3 66.0 L684.3 65.8 L685.3 65.6 L686.3 65.5 L687.3 65.4 L688.3 65.2 L689.3 65.1 L690.3 65.0 L691.3 64.8 L692.3 64.7 L693.3 64.6 L694.3 64.5 L695.2 64.4 L696.2 64.3 L697.2 64.2 L698.2 64.1 L699.2 64.0 L700.2 63.9 L701.2 63.8 L702.2 63.7 L703.2 63.6 L704.2 63.5 L705.2 63.4 L706.2 63.3 L707.2 63.3 L708.2 63.2 L709.2 63.2 L710.2 63.2 L711.3 63.2 L712.3 63.2 L713.3 63.3 L714.2 63.3 L715.0 63.7 L715.7 64.5 L716.4 65.5 L716.8 66.4 L717.2 67.3 L717.4 68.3 L717.6 69.2 L717.8 70.3 L717.9 71.3 L718.1 72.3 L718.4 73.3 L718.7 74.3 L718.9 75.3 L719.3 76.2 L719.7 77.1 L720.4 77.9 L721.2 78.3 L722.0 78.0 L722.9 77.3 L723.7 76.6 L724.4 75.9 L725.1 75.2 L725.7 74.4 L726.3 73.6 L726.9 72.7 L727.4 71.9 L728.0 71.1 L728.6 70.3 L729.2 69.4 L729.8 68.6 L730.4 67.8 L730.9 67.0 L731.4 66.1 L731.7 65.1 L732.0 64.2 L732.2 63.2 L732.3 62.2 L732.4 61.2 L732.5 60.2 L732.6 59.2 L732.7 58.2 L732.8 57.2 L732.9 56.1 L733.0 54.8 L733.1 53.5 L733.3 52.4 L733.4 51.6 L733.5 51.3 L733.6 51.7 L733.7 52.7 L733.8 54.0 L733.9 55.2 L734.0 56.3 L734.1 57.3 L734.2 58.3 L734.3 59.3 L734.4 60.3 L734.5 61.3 L734.7 62.4 L734.8 63.4 L735.1 64.2 L735.8 64.9 L736.7 65.5" fill="none" stroke-linejoin="round" stroke="#000" stroke-width="1.85" />
</g>
<rect x="108.30" y="39.50" width="215.10" height="190.00" fill="none" stroke="#000" stroke-width="1.9"/>
<rect x="514.00" y="39.50" width="222.70" height="190.00" fill="none" stroke="#000" stroke-width="1.9"/>
<g opacity="0.999">
<text x="69.10" y="45.20" font-size="22.80" text-anchor="start" textLength="24.2" lengthAdjust="spacingAndGlyphs">10</text><text x="92.10" y="36.70" font-size="16.80" text-anchor="start" >2</text>
<text x="69.10" y="83.20" font-size="22.80" text-anchor="start" textLength="24.2" lengthAdjust="spacingAndGlyphs">10</text><text x="92.10" y="74.70" font-size="16.80" text-anchor="start" >1</text>
<text x="69.10" y="121.20" font-size="22.80" text-anchor="start" textLength="24.2" lengthAdjust="spacingAndGlyphs">10</text><text x="92.10" y="112.70" font-size="16.80" text-anchor="start" >0</text>
<text x="55.80" y="159.20" font-size="22.80" text-anchor="start" textLength="24.2" lengthAdjust="spacingAndGlyphs">10</text><path d="M79.60 146.70 h10.3" stroke="#222" stroke-width="1.0"/><text x="91.30" y="150.70" font-size="16.80" text-anchor="start" >1</text>
<text x="55.80" y="197.20" font-size="22.80" text-anchor="start" textLength="24.2" lengthAdjust="spacingAndGlyphs">10</text><path d="M79.60 184.70 h10.3" stroke="#222" stroke-width="1.0"/><text x="91.30" y="188.70" font-size="16.80" text-anchor="start" >2</text>
<text x="55.80" y="235.20" font-size="22.80" text-anchor="start" textLength="24.2" lengthAdjust="spacingAndGlyphs">10</text><path d="M79.60 222.70 h10.3" stroke="#222" stroke-width="1.0"/><text x="91.30" y="226.70" font-size="16.80" text-anchor="start" >3</text>
<text x="85.35" y="252.90" font-size="22.80" text-anchor="start" textLength="24.2" lengthAdjust="spacingAndGlyphs">10</text><path d="M109.15 240.40 h10.3" stroke="#222" stroke-width="1.0"/><text x="120.85" y="244.40" font-size="16.80" text-anchor="start" >2</text>
<text x="139.12" y="252.90" font-size="22.80" text-anchor="start" textLength="24.2" lengthAdjust="spacingAndGlyphs">10</text><path d="M162.93 240.40 h10.3" stroke="#222" stroke-width="1.0"/><text x="174.62" y="244.40" font-size="16.80" text-anchor="start" >1</text>
<text x="199.55" y="252.90" font-size="22.80" text-anchor="start" textLength="24.2" lengthAdjust="spacingAndGlyphs">10</text><text x="222.55" y="244.40" font-size="16.80" text-anchor="start" >0</text>
<text x="253.32" y="252.90" font-size="22.80" text-anchor="start" textLength="24.2" lengthAdjust="spacingAndGlyphs">10</text><text x="276.32" y="244.40" font-size="16.80" text-anchor="start" >1</text>
<text x="307.10" y="252.90" font-size="22.80" text-anchor="start" textLength="24.2" lengthAdjust="spacingAndGlyphs">10</text><text x="330.10" y="244.40" font-size="16.80" text-anchor="start" >2</text>
<text x="474.80" y="45.20" font-size="22.80" text-anchor="start" textLength="24.2" lengthAdjust="spacingAndGlyphs">10</text><text x="497.80" y="36.70" font-size="16.80" text-anchor="start" >2</text>
<text x="474.80" y="83.20" font-size="22.80" text-anchor="start" textLength="24.2" lengthAdjust="spacingAndGlyphs">10</text><text x="497.80" y="74.70" font-size="16.80" text-anchor="start" >1</text>
<text x="474.80" y="121.20" font-size="22.80" text-anchor="start" textLength="24.2" lengthAdjust="spacingAndGlyphs">10</text><text x="497.80" y="112.70" font-size="16.80" text-anchor="start" >0</text>
<text x="461.50" y="159.20" font-size="22.80" text-anchor="start" textLength="24.2" lengthAdjust="spacingAndGlyphs">10</text><path d="M485.30 146.70 h10.3" stroke="#222" stroke-width="1.0"/><text x="497.00" y="150.70" font-size="16.80" text-anchor="start" >1</text>
<text x="461.50" y="197.20" font-size="22.80" text-anchor="start" textLength="24.2" lengthAdjust="spacingAndGlyphs">10</text><path d="M485.30 184.70 h10.3" stroke="#222" stroke-width="1.0"/><text x="497.00" y="188.70" font-size="16.80" text-anchor="start" >2</text>
<text x="461.50" y="235.20" font-size="22.80" text-anchor="start" textLength="24.2" lengthAdjust="spacingAndGlyphs">10</text><path d="M485.30 222.70 h10.3" stroke="#222" stroke-width="1.0"/><text x="497.00" y="226.70" font-size="16.80" text-anchor="start" >3</text>
<text x="491.05" y="252.90" font-size="22.80" text-anchor="start" textLength="24.2" lengthAdjust="spacingAndGlyphs">10</text><path d="M514.85 240.40 h10.3" stroke="#222" stroke-width="1.0"/><text x="526.55" y="244.40" font-size="16.80" text-anchor="start" >2</text>
<text x="546.72" y="252.90" font-size="22.80" text-anchor="start" textLength="24.2" lengthAdjust="spacingAndGlyphs">10</text><path d="M570.52 240.40 h10.3" stroke="#222" stroke-width="1.0"/><text x="582.22" y="244.40" font-size="16.80" text-anchor="start" >1</text>
<text x="609.05" y="252.90" font-size="22.80" text-anchor="start" textLength="24.2" lengthAdjust="spacingAndGlyphs">10</text><text x="632.05" y="244.40" font-size="16.80" text-anchor="start" >0</text>
<text x="664.73" y="252.90" font-size="22.80" text-anchor="start" textLength="24.2" lengthAdjust="spacingAndGlyphs">10</text><text x="687.73" y="244.40" font-size="16.80" text-anchor="start" >1</text>
<text x="720.40" y="252.90" font-size="22.80" text-anchor="start" textLength="24.2" lengthAdjust="spacingAndGlyphs">10</text><text x="743.40" y="244.40" font-size="16.80" text-anchor="start" >2</text>
<rect x="344.80" y="39.30" width="22.30" height="190.50" fill="url(#bwr)" stroke="#000" stroke-width="1.8"/><path d="M344.80 134.40 h5.8 M367.10 134.40 h-5.8" stroke="#000" stroke-width="1.5"/><path d="M344.80 225.10 h5.8 M367.10 225.10 h-5.8" stroke="#000" stroke-width="1.5"/>
<rect x="758.80" y="39.30" width="21.90" height="190.50" fill="url(#bwr)" stroke="#000" stroke-width="1.8"/><path d="M758.80 86.70 h5.8 M780.70 86.70 h-5.8" stroke="#000" stroke-width="1.5"/><path d="M758.80 134.40 h5.8 M780.70 134.40 h-5.8" stroke="#000" stroke-width="1.5"/><path d="M758.80 182.10 h5.8 M780.70 182.10 h-5.8" stroke="#000" stroke-width="1.5"/>
<text x="388.00" y="45.10" font-size="22.80" text-anchor="start" >1</text>
<text x="388.00" y="140.20" font-size="22.80" text-anchor="start" >0</text>
<path d="M382.30 224.60 h13.50" stroke="#222" stroke-width="1.05"/>
<text x="397.60" y="231.00" font-size="22.80" text-anchor="start"  textLength="39.0" lengthAdjust="spacingAndGlyphs">0.95</text>
<text x="801.60" y="45.10" font-size="22.80" text-anchor="start" >2</text>
<text x="801.60" y="92.50" font-size="22.80" text-anchor="start" >1</text>
<text x="801.60" y="140.20" font-size="22.80" text-anchor="start" >0</text>
<path d="M796.30 182.00 h13.50" stroke="#222" stroke-width="1.05"/>
<text x="811.40" y="187.60" font-size="22.80" text-anchor="start" >1</text>
<path d="M796.30 229.80 h13.50" stroke="#222" stroke-width="1.05"/>
<text x="811.40" y="235.40" font-size="22.80" text-anchor="start" >2</text>
<text transform="translate(334.00,25.80) scale(1.180,1)" font-size="19.50" font-style="italic" text-anchor="start" >β</text>
<path d="M347.00 19.20 v12.00 M349.60 19.20 v12.00" stroke="#262626" stroke-width="1.00"/>
<text x="353.00" y="29.30" font-size="13.60" font-style="italic" text-anchor="start" >i</text>
<text transform="translate(358.10,25.80) scale(1.330,1)" font-size="18.30" text-anchor="start" >Δ</text>
<text x="375.40" y="29.00" font-size="13.60" font-style="italic" text-anchor="start" >s</text>
<text transform="translate(748.30,25.80) scale(1.180,1)" font-size="19.50" font-style="italic" text-anchor="start" >β</text>
<path d="M761.30 19.20 v12.00 M763.90 19.20 v12.00" stroke="#262626" stroke-width="1.00"/>
<text x="767.30" y="29.30" font-size="13.60" font-style="italic" text-anchor="start" >i</text>
<text transform="translate(772.40,25.80) scale(1.330,1)" font-size="18.30" text-anchor="start" >Δ</text>
<text x="789.70" y="29.00" font-size="13.60" font-style="italic" text-anchor="start" >s</text>
<text transform="translate(107.60,26.00) scale(1.170,1)" font-size="21.80" font-style="italic" text-anchor="start" >β</text><path d="M123.30 19.40 v14.80 M126.90 19.40 v14.80" stroke="#262626" stroke-width="1.10"/><text x="130.20" y="30.30" font-size="16.50" font-style="italic" text-anchor="start" >i</text><path d="M143.70 16.90 H158.00 M143.70 21.90 H158.00" stroke="#222" stroke-width="1.05"/><text x="166.60" y="26.00" font-size="21.80" text-anchor="start" >1.0</text>
<text transform="translate(513.60,26.00) scale(1.170,1)" font-size="21.80" font-style="italic" text-anchor="start" >β</text><path d="M529.30 19.40 v14.80 M532.90 19.40 v14.80" stroke="#262626" stroke-width="1.10"/><text x="536.20" y="30.30" font-size="16.50" font-style="italic" text-anchor="start" >i</text><path d="M549.70 16.90 H564.00 M549.70 21.90 H564.00" stroke="#222" stroke-width="1.05"/><text x="572.60" y="26.00" font-size="21.80" text-anchor="start" >100</text>
<path d="M129.30 61.9 h33.6" stroke="#000" stroke-width="1.7"/><text transform="translate(176.50,68.20) scale(1.220,1)" font-size="19.40" text-anchor="start" >Δ</text><text x="192.80" y="69.80" font-size="13.00" font-style="italic" text-anchor="start" >s</text><path d="M206.10 60.80 H219.10 M206.10 65.20 H219.10" stroke="#222" stroke-width="1.00"/><text x="225.30" y="68.40" font-size="19.80" text-anchor="start" >0</text>
<path d="M540.40 61.9 h33.6" stroke="#000" stroke-width="1.7"/><text transform="translate(587.60,68.20) scale(1.220,1)" font-size="19.40" text-anchor="start" >Δ</text><text x="603.90" y="69.80" font-size="13.00" font-style="italic" text-anchor="start" >s</text><path d="M617.20 60.80 H630.20 M617.20 65.20 H630.20" stroke="#222" stroke-width="1.00"/><text x="636.40" y="68.40" font-size="19.80" text-anchor="start" >0</text>
<text transform="translate(193.90,276.80) scale(1.080,1)" font-size="22.00" font-style="italic" text-anchor="start" >k</text><path d="M205.80 280.0 h11.2 M211.40 280.0 v-7.8" stroke="#222" stroke-width="1.0"/><text x="220.20" y="276.80" font-size="22.00" font-style="italic" text-anchor="start" >ρ</text><text x="230.90" y="280.50" font-size="16.00" font-style="italic" text-anchor="start" >i</text>
<text transform="translate(603.60,276.80) scale(1.080,1)" font-size="22.00" font-style="italic" text-anchor="start" >k</text><path d="M615.50 280.0 h11.2 M621.10 280.0 v-7.8" stroke="#222" stroke-width="1.0"/><text x="629.90" y="276.80" font-size="22.00" font-style="italic" text-anchor="start" >ρ</text><text x="640.60" y="280.50" font-size="16.00" font-style="italic" text-anchor="start" >i</text>
<g transform="translate(42.30,134.5) rotate(-90)"><path d="M-38.80 -16.30 L-38.80 5.20" stroke="#222" stroke-width="1.05"/><path transform="translate(-35.3,0)" d="M0.6,-5.3 C1.2,-8 2.4,-9.4 4.2,-9.4 C6.2,-9.4 7.2,-5.5 7.3,0.3 L6.8,4.6 M7.3,0.3 C8.8,-3 10.8,-6.5 12,-9.3" fill="none" stroke="#222" stroke-width="1.25" stroke-linecap="round"/><path d="M-19.20 -16.30 L-19.20 5.20" stroke="#222" stroke-width="1.05"/><path d="M-15.80 5.20 L-6.80 -16.30" stroke="#222" stroke-width="1.05"/><text x="-5.40" y="0.00" font-size="21.50" font-style="italic" text-anchor="start" >k</text><path d="M8.30 -8.30 L8.30 7.80" stroke="#222" stroke-width="1.05"/><path d="M12.00 -8.30 L12.00 7.80" stroke="#222" stroke-width="1.05"/><text x="17.00" y="0.00" font-size="21.50" font-style="italic" text-anchor="start" >v</text><text x="27.60" y="2.60" font-size="15.50" text-anchor="start" >A</text></g>
<g transform="translate(448.00,134.5) rotate(-90)"><path d="M-38.80 -16.30 L-38.80 5.20" stroke="#222" stroke-width="1.05"/><path transform="translate(-35.3,0)" d="M0.6,-5.3 C1.2,-8 2.4,-9.4 4.2,-9.4 C6.2,-9.4 7.2,-5.5 7.3,0.3 L6.8,4.6 M7.3,0.3 C8.8,-3 10.8,-6.5 12,-9.3" fill="none" stroke="#222" stroke-width="1.25" stroke-linecap="round"/><path d="M-19.20 -16.30 L-19.20 5.20" stroke="#222" stroke-width="1.05"/><path d="M-15.80 5.20 L-6.80 -16.30" stroke="#222" stroke-width="1.05"/><text x="-5.40" y="0.00" font-size="21.50" font-style="italic" text-anchor="start" >k</text><path d="M8.30 -8.30 L8.30 7.80" stroke="#222" stroke-width="1.05"/><path d="M12.00 -8.30 L12.00 7.80" stroke="#222" stroke-width="1.05"/><text x="17.00" y="0.00" font-size="21.50" font-style="italic" text-anchor="start" >v</text><text x="27.60" y="2.60" font-size="15.50" text-anchor="start" >A</text></g>
</g>
</svg>
</body></html>
